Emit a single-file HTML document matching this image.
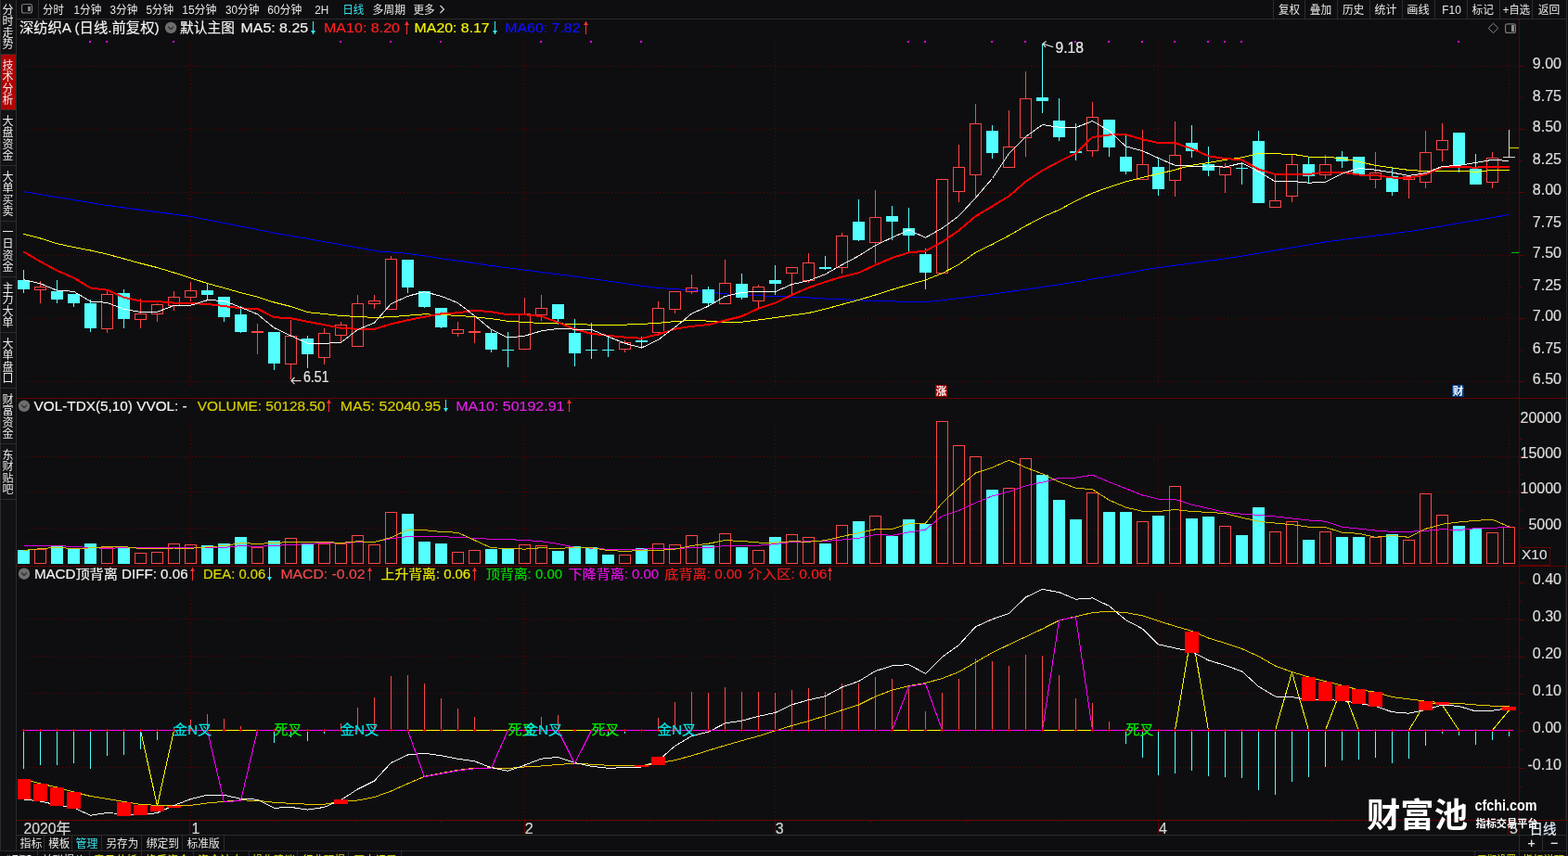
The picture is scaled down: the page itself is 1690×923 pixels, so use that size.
<!DOCTYPE html>
<html><head><meta charset="utf-8"><style>
html,body{margin:0;padding:0;background:#0e0e10;}
body{width:1690px;height:923px;overflow:hidden;position:relative;font-family:"Liberation Sans","Noto Sans CJK SC",sans-serif;}
svg{position:absolute;left:0;top:0;}
</style></head><body>
<svg width="1690" height="923" viewBox="0 0 1690 923" shape-rendering="crispEdges" font-family='"Liberation Sans","Noto Sans CJK SC",sans-serif'>
<rect x="0" y="0" width="1690" height="923" fill="#0e0e10"/>
<g><rect x="0" y="0" width="18" height="917" fill="#121214"/>
<rect x="0" y="0" width="1" height="917" fill="#2c2c2e"/>
<rect x="17" y="0" width="1" height="917" fill="#2c2c2e"/>
<rect x="1" y="58" width="16" height="1" fill="#2c2c2e"/>
<rect x="1" y="118" width="16" height="1" fill="#2c2c2e"/>
<rect x="1" y="178" width="16" height="1" fill="#2c2c2e"/>
<rect x="1" y="238" width="16" height="1" fill="#2c2c2e"/>
<rect x="1" y="298" width="16" height="1" fill="#2c2c2e"/>
<rect x="1" y="358" width="16" height="1" fill="#2c2c2e"/>
<rect x="1" y="418" width="16" height="1" fill="#2c2c2e"/>
<rect x="1" y="478" width="16" height="1" fill="#2c2c2e"/>
<rect x="1" y="538" width="16" height="1" fill="#2c2c2e"/>
<rect x="1" y="59" width="16" height="59" fill="#b00000"/>
<rect x="18" y="20" width="1670" height="1" fill="#2c2c2e"/>
<rect x="41" y="0" width="1" height="20" fill="#2c2c2e"/>
<rect x="1372" y="0" width="1" height="20" fill="#2c2c2e"/>
<rect x="1406" y="0" width="1" height="20" fill="#2c2c2e"/>
<rect x="1441" y="0" width="1" height="20" fill="#2c2c2e"/>
<rect x="1476" y="0" width="1" height="20" fill="#2c2c2e"/>
<rect x="1511" y="0" width="1" height="20" fill="#2c2c2e"/>
<rect x="1546" y="0" width="1" height="20" fill="#2c2c2e"/>
<rect x="1581" y="0" width="1" height="20" fill="#2c2c2e"/>
<rect x="1616" y="0" width="1" height="20" fill="#2c2c2e"/>
<rect x="1651" y="0" width="1" height="20" fill="#2c2c2e"/>
<rect x="1688" y="0" width="1" height="923" fill="#2c2c2e"/>
<rect x="23.5" y="4.5" width="11" height="9.5" rx="2" fill="none" stroke="#7a7a7a" stroke-width="1.2" shape-rendering="auto"/>
<rect x="29.5" y="6.5" width="3" height="5.5" fill="#8a8a8a"/>
<path d="M1609.5 25.2 L1614.8 30.4 L1609.5 35.6 L1604.2 30.4 Z" fill="none" stroke="#8a8a8a" stroke-width="1" shape-rendering="auto"/>
<rect x="1622.6" y="25.8" width="10.8" height="9.6" rx="2" fill="none" stroke="#7a7a7a" stroke-width="1.2" shape-rendering="auto"/>
<rect x="1629" y="27.3" width="3" height="6.5" fill="#8a8a8a"/>
<circle cx="184.1" cy="29.9" r="6.2" fill="#6e6e6e" shape-rendering="auto"/>
<polyline points="181.1,28.7 184.1,31.7 187.1,28.7" fill="none" stroke="#2a2a2a" stroke-width="1.2" shape-rendering="auto"/>
<circle cx="26" cy="437.8" r="6.2" fill="#6e6e6e" shape-rendering="auto"/>
<polyline points="23,436.6 26,439.6 29,436.6" fill="none" stroke="#2a2a2a" stroke-width="1.2" shape-rendering="auto"/>
<circle cx="26" cy="618.7" r="6.2" fill="#6e6e6e" shape-rendering="auto"/>
<polyline points="23,617.5 26,620.5 29,617.5" fill="none" stroke="#2a2a2a" stroke-width="1.2" shape-rendering="auto"/>
<rect x="18" y="900" width="1670" height="1" fill="#2c2c2e"/>
<rect x="47" y="900" width="1" height="17" fill="#2c2c2e"/>
<rect x="77" y="900" width="1" height="17" fill="#2c2c2e"/>
<rect x="109" y="900" width="1" height="17" fill="#2c2c2e"/>
<rect x="152" y="900" width="1" height="17" fill="#2c2c2e"/>
<rect x="196" y="900" width="1" height="17" fill="#2c2c2e"/>
<rect x="241" y="900" width="1" height="17" fill="#2c2c2e"/>
<rect x="1637" y="900" width="1" height="17" fill="#2c2c2e"/>
<rect x="1662" y="900" width="1" height="17" fill="#2c2c2e"/>
<rect x="0" y="917" width="1688" height="1" fill="#2c2c2e"/>
<rect x="40" y="918" width="1" height="5" fill="#2c2c2e"/>
<rect x="96" y="918" width="1" height="5" fill="#2c2c2e"/>
<rect x="152" y="918" width="1" height="5" fill="#2c2c2e"/>
<rect x="208" y="918" width="1" height="5" fill="#2c2c2e"/>
<rect x="268" y="918" width="1" height="5" fill="#2c2c2e"/>
<rect x="320" y="918" width="1" height="5" fill="#2c2c2e"/>
<rect x="375" y="918" width="1" height="5" fill="#2c2c2e"/>
<rect x="432" y="918" width="1" height="5" fill="#2c2c2e"/>
<rect x="1589" y="918" width="1" height="5" fill="#2c2c2e"/>
<rect x="1637" y="918" width="1" height="5" fill="#2c2c2e"/>
<path d="M1008 415 L1019 415 L1021 417 L1021 428 L1008 428 Z" fill="#960000"/>
<path d="M1565 415 L1576 415 L1578 417 L1578 428 L1565 428 Z" fill="#003a80"/>
<rect x="295" y="885" width="1" height="2" fill="#660000"/>
<rect x="384" y="885" width="1" height="2" fill="#660000"/>
<rect x="475" y="885" width="1" height="2" fill="#660000"/>
<rect x="632" y="885" width="1" height="2" fill="#660000"/>
<rect x="700" y="885" width="1" height="2" fill="#660000"/>
<rect x="767" y="885" width="1" height="2" fill="#660000"/>
<rect x="938" y="885" width="1" height="2" fill="#660000"/>
<rect x="1041" y="885" width="1" height="2" fill="#660000"/>
<rect x="1144" y="885" width="1" height="2" fill="#660000"/>
<rect x="1342" y="885" width="1" height="2" fill="#660000"/>
<rect x="1436" y="885" width="1" height="2" fill="#660000"/>
<rect x="1540" y="885" width="1" height="2" fill="#660000"/>
<polyline points="474.5,6 478.5,10 474.5,14" fill="none" stroke="#dedede" stroke-width="1.1" shape-rendering="auto"/></g>
<defs><clipPath id="cp"><rect x="19" y="21" width="1618" height="863"/></clipPath></defs>
<g clip-path="url(#cp)"><line x1="23" y1="71.5" x2="1637" y2="71.5" stroke="#660000" stroke-width="1" stroke-dasharray="1 3"/>
<line x1="23" y1="139.5" x2="1637" y2="139.5" stroke="#660000" stroke-width="1" stroke-dasharray="1 3"/>
<line x1="23" y1="207.5" x2="1637" y2="207.5" stroke="#660000" stroke-width="1" stroke-dasharray="1 3"/>
<line x1="23" y1="275.5" x2="1637" y2="275.5" stroke="#660000" stroke-width="1" stroke-dasharray="1 3"/>
<line x1="23" y1="343.5" x2="1637" y2="343.5" stroke="#660000" stroke-width="1" stroke-dasharray="1 3"/>
<line x1="23" y1="411.5" x2="1637" y2="411.5" stroke="#660000" stroke-width="1" stroke-dasharray="1 3"/>
<line x1="23" y1="492.5" x2="1637" y2="492.5" stroke="#660000" stroke-width="1" stroke-dasharray="1 3"/>
<line x1="23" y1="530.5" x2="1637" y2="530.5" stroke="#660000" stroke-width="1" stroke-dasharray="1 3"/>
<line x1="23" y1="569.5" x2="1637" y2="569.5" stroke="#660000" stroke-width="1" stroke-dasharray="1 3"/>
<line x1="23" y1="667.5" x2="1637" y2="667.5" stroke="#660000" stroke-width="1" stroke-dasharray="1 3"/>
<line x1="23" y1="707.5" x2="1637" y2="707.5" stroke="#660000" stroke-width="1" stroke-dasharray="1 3"/>
<line x1="23" y1="747.5" x2="1637" y2="747.5" stroke="#660000" stroke-width="1" stroke-dasharray="1 3"/>
<line x1="23" y1="827.5" x2="1637" y2="827.5" stroke="#660000" stroke-width="1" stroke-dasharray="1 3"/>
<line x1="205.5" y1="46" x2="205.5" y2="416" stroke="#660000" stroke-width="1" stroke-dasharray="1 3"/>
<line x1="205.5" y1="454" x2="205.5" y2="608" stroke="#660000" stroke-width="1" stroke-dasharray="1 3"/>
<line x1="205.5" y1="635" x2="205.5" y2="884" stroke="#660000" stroke-width="1" stroke-dasharray="1 3"/>
<line x1="565.5" y1="46" x2="565.5" y2="416" stroke="#660000" stroke-width="1" stroke-dasharray="1 3"/>
<line x1="565.5" y1="454" x2="565.5" y2="608" stroke="#660000" stroke-width="1" stroke-dasharray="1 3"/>
<line x1="565.5" y1="635" x2="565.5" y2="884" stroke="#660000" stroke-width="1" stroke-dasharray="1 3"/>
<line x1="835.5" y1="46" x2="835.5" y2="416" stroke="#660000" stroke-width="1" stroke-dasharray="1 3"/>
<line x1="835.5" y1="454" x2="835.5" y2="608" stroke="#660000" stroke-width="1" stroke-dasharray="1 3"/>
<line x1="835.5" y1="635" x2="835.5" y2="884" stroke="#660000" stroke-width="1" stroke-dasharray="1 3"/>
<line x1="1248.5" y1="46" x2="1248.5" y2="416" stroke="#660000" stroke-width="1" stroke-dasharray="1 3"/>
<line x1="1248.5" y1="454" x2="1248.5" y2="608" stroke="#660000" stroke-width="1" stroke-dasharray="1 3"/>
<line x1="1248.5" y1="635" x2="1248.5" y2="884" stroke="#660000" stroke-width="1" stroke-dasharray="1 3"/>
<line x1="1626.5" y1="46" x2="1626.5" y2="416" stroke="#660000" stroke-width="1" stroke-dasharray="1 3"/>
<line x1="1626.5" y1="454" x2="1626.5" y2="608" stroke="#660000" stroke-width="1" stroke-dasharray="1 3"/>
<line x1="1626.5" y1="635" x2="1626.5" y2="884" stroke="#660000" stroke-width="1" stroke-dasharray="1 3"/>
<polyline points="25.1,206.6 112.7,221.1 205.0,233.4 302.0,252.3 408.2,271.0 421.5,272.0 439.5,273.4 457.5,275.9 475.5,278.8 493.5,281.2 511.5,283.7 525.0,285.9 640.0,300.8 673.5,305.7 691.5,308.4 709.5,310.5 727.5,311.6 745.5,313.0 763.5,314.9 781.5,316.9 799.5,317.6 817.5,318.7 835.5,319.8 853.5,320.1 871.5,320.9 889.5,322.0 907.5,322.8 927.3,323.9 993.6,325.8 1012.5,324.2 1069.3,317.1 1116.7,310.5 1164.0,303.3 1211.4,295.1 1240.0,289.8 1280.0,284.4 1334.7,276.8 1429.3,260.7 1524.0,248.9 1625.8,231.6" fill="none" stroke="#0000ff" stroke-width="1" stroke-linejoin="round"/>
<rect x="25" y="291" width="1" height="25" fill="#54ffff"/>
<rect x="19" y="302" width="13" height="10" fill="#54ffff"/>
<rect x="43" y="303" width="1" height="6" fill="#ff4646"/>
<rect x="43" y="313" width="1" height="14" fill="#ff4646"/>
<rect x="37.5" y="309.5" width="12" height="3" fill="none" stroke="#ff4646" stroke-width="1"/>
<rect x="61" y="302" width="1" height="25" fill="#54ffff"/>
<rect x="55" y="314" width="13" height="9" fill="#54ffff"/>
<rect x="79" y="317" width="1" height="14" fill="#54ffff"/>
<rect x="73" y="317" width="13" height="10" fill="#54ffff"/>
<rect x="97" y="323" width="1" height="35" fill="#54ffff"/>
<rect x="91" y="327" width="13" height="27" fill="#54ffff"/>
<rect x="115" y="314" width="1" height="3" fill="#ff4646"/>
<rect x="115" y="355" width="1" height="4" fill="#ff4646"/>
<rect x="109.5" y="317.5" width="12" height="37" fill="none" stroke="#ff4646" stroke-width="1"/>
<rect x="133" y="312" width="1" height="42" fill="#54ffff"/>
<rect x="127" y="316" width="13" height="28" fill="#54ffff"/>
<rect x="151" y="322" width="1" height="16" fill="#ff4646"/>
<rect x="151" y="345" width="1" height="9" fill="#ff4646"/>
<rect x="145.5" y="338.5" width="12" height="6" fill="none" stroke="#ff4646" stroke-width="1"/>
<rect x="169" y="327" width="1" height="1" fill="#ff4646"/>
<rect x="169" y="339" width="1" height="8" fill="#ff4646"/>
<rect x="163.5" y="328.5" width="12" height="10" fill="none" stroke="#ff4646" stroke-width="1"/>
<rect x="187" y="314" width="1" height="6" fill="#ff4646"/>
<rect x="187" y="330" width="1" height="5" fill="#ff4646"/>
<rect x="181.5" y="320.5" width="12" height="9" fill="none" stroke="#ff4646" stroke-width="1"/>
<rect x="205" y="304" width="1" height="9" fill="#ff4646"/>
<rect x="205" y="321" width="1" height="4" fill="#ff4646"/>
<rect x="199.5" y="313.5" width="12" height="7" fill="none" stroke="#ff4646" stroke-width="1"/>
<rect x="223" y="306" width="1" height="17" fill="#54ffff"/>
<rect x="217" y="313" width="13" height="5" fill="#54ffff"/>
<rect x="241" y="320" width="1" height="27" fill="#54ffff"/>
<rect x="235" y="320" width="13" height="22" fill="#54ffff"/>
<rect x="259" y="330" width="1" height="29" fill="#54ffff"/>
<rect x="253" y="339" width="13" height="19" fill="#54ffff"/>
<rect x="277" y="349" width="1" height="33" fill="#ff4646"/>
<rect x="271" y="357" width="13" height="2" fill="#ff4646"/>
<rect x="295" y="358" width="1" height="41" fill="#54ffff"/>
<rect x="289" y="358" width="13" height="34" fill="#54ffff"/>
<rect x="313" y="345" width="1" height="17" fill="#ff4646"/>
<rect x="313" y="393" width="1" height="16" fill="#ff4646"/>
<rect x="307.5" y="362.5" width="12" height="30" fill="none" stroke="#ff4646" stroke-width="1"/>
<rect x="331" y="362" width="1" height="35" fill="#54ffff"/>
<rect x="325" y="365" width="13" height="17" fill="#54ffff"/>
<rect x="349" y="354" width="1" height="5" fill="#ff4646"/>
<rect x="349" y="386" width="1" height="7" fill="#ff4646"/>
<rect x="343.5" y="359.5" width="12" height="26" fill="none" stroke="#ff4646" stroke-width="1"/>
<rect x="367" y="347" width="1" height="3" fill="#ff4646"/>
<rect x="367" y="362" width="1" height="7" fill="#ff4646"/>
<rect x="361.5" y="350.5" width="12" height="11" fill="none" stroke="#ff4646" stroke-width="1"/>
<rect x="385" y="318" width="1" height="9" fill="#ff4646"/>
<rect x="379.5" y="327.5" width="12" height="46" fill="none" stroke="#ff4646" stroke-width="1"/>
<rect x="403" y="318" width="1" height="6" fill="#ff4646"/>
<rect x="403" y="328" width="1" height="5" fill="#ff4646"/>
<rect x="397.5" y="324.5" width="12" height="3" fill="none" stroke="#ff4646" stroke-width="1"/>
<rect x="421" y="276" width="1" height="3" fill="#ff4646"/>
<rect x="415.5" y="279.5" width="12" height="54" fill="none" stroke="#ff4646" stroke-width="1"/>
<rect x="439" y="280" width="1" height="36" fill="#54ffff"/>
<rect x="433" y="280" width="13" height="30" fill="#54ffff"/>
<rect x="457" y="314" width="1" height="18" fill="#54ffff"/>
<rect x="451" y="314" width="13" height="17" fill="#54ffff"/>
<rect x="475" y="332" width="1" height="22" fill="#54ffff"/>
<rect x="469" y="332" width="13" height="21" fill="#54ffff"/>
<rect x="493" y="347" width="1" height="8" fill="#ff4646"/>
<rect x="493" y="360" width="1" height="3" fill="#ff4646"/>
<rect x="487.5" y="355.5" width="12" height="4" fill="none" stroke="#ff4646" stroke-width="1"/>
<rect x="511" y="342" width="1" height="28" fill="#ff4646"/>
<rect x="505" y="357" width="13" height="2" fill="#ff4646"/>
<rect x="529" y="355" width="1" height="25" fill="#54ffff"/>
<rect x="523" y="359" width="13" height="18" fill="#54ffff"/>
<rect x="547" y="358" width="1" height="38" fill="#54ffff"/>
<rect x="541" y="377" width="13" height="1" fill="#54ffff"/>
<rect x="565" y="321" width="1" height="17" fill="#ff4646"/>
<rect x="559.5" y="338.5" width="12" height="38" fill="none" stroke="#ff4646" stroke-width="1"/>
<rect x="583" y="318" width="1" height="14" fill="#ff4646"/>
<rect x="583" y="340" width="1" height="6" fill="#ff4646"/>
<rect x="577.5" y="332.5" width="12" height="7" fill="none" stroke="#ff4646" stroke-width="1"/>
<rect x="601" y="328" width="1" height="22" fill="#54ffff"/>
<rect x="595" y="328" width="13" height="16" fill="#54ffff"/>
<rect x="619" y="344" width="1" height="51" fill="#54ffff"/>
<rect x="613" y="359" width="13" height="22" fill="#54ffff"/>
<rect x="637" y="348" width="1" height="39" fill="#54ffff"/>
<rect x="631" y="377" width="13" height="1" fill="#54ffff"/>
<rect x="655" y="364" width="1" height="21" fill="#54ffff"/>
<rect x="649" y="377" width="13" height="1" fill="#54ffff"/>
<rect x="673" y="367" width="1" height="2" fill="#ff4646"/>
<rect x="673" y="377" width="1" height="3" fill="#ff4646"/>
<rect x="667.5" y="369.5" width="12" height="7" fill="none" stroke="#ff4646" stroke-width="1"/>
<rect x="691" y="363" width="1" height="13" fill="#54ffff"/>
<rect x="685" y="367" width="13" height="2" fill="#54ffff"/>
<rect x="709" y="325" width="1" height="7" fill="#ff4646"/>
<rect x="709" y="359" width="1" height="3" fill="#ff4646"/>
<rect x="703.5" y="332.5" width="12" height="26" fill="none" stroke="#ff4646" stroke-width="1"/>
<rect x="727" y="334" width="1" height="4" fill="#ff4646"/>
<rect x="721.5" y="314.5" width="12" height="19" fill="none" stroke="#ff4646" stroke-width="1"/>
<rect x="745" y="296" width="1" height="14" fill="#ff4646"/>
<rect x="745" y="315" width="1" height="2" fill="#ff4646"/>
<rect x="739.5" y="310.5" width="12" height="4" fill="none" stroke="#ff4646" stroke-width="1"/>
<rect x="763" y="309" width="1" height="20" fill="#54ffff"/>
<rect x="757" y="312" width="13" height="15" fill="#54ffff"/>
<rect x="781" y="280" width="1" height="25" fill="#ff4646"/>
<rect x="775.5" y="305.5" width="12" height="22" fill="none" stroke="#ff4646" stroke-width="1"/>
<rect x="799" y="295" width="1" height="28" fill="#54ffff"/>
<rect x="793" y="306" width="13" height="15" fill="#54ffff"/>
<rect x="817" y="307" width="1" height="2" fill="#ff4646"/>
<rect x="817" y="325" width="1" height="7" fill="#ff4646"/>
<rect x="811.5" y="309.5" width="12" height="15" fill="none" stroke="#ff4646" stroke-width="1"/>
<rect x="835" y="286" width="1" height="32" fill="#54ffff"/>
<rect x="829" y="302" width="13" height="4" fill="#54ffff"/>
<rect x="853" y="295" width="1" height="23" fill="#ff4646"/>
<rect x="847.5" y="288.5" width="12" height="6" fill="none" stroke="#ff4646" stroke-width="1"/>
<rect x="871" y="273" width="1" height="10" fill="#ff4646"/>
<rect x="871" y="303" width="1" height="2" fill="#ff4646"/>
<rect x="865.5" y="283.5" width="12" height="19" fill="none" stroke="#ff4646" stroke-width="1"/>
<rect x="889" y="276" width="1" height="15" fill="#54ffff"/>
<rect x="883" y="288" width="13" height="2" fill="#54ffff"/>
<rect x="907" y="251" width="1" height="3" fill="#ff4646"/>
<rect x="907" y="289" width="1" height="6" fill="#ff4646"/>
<rect x="901.5" y="254.5" width="12" height="34" fill="none" stroke="#ff4646" stroke-width="1"/>
<rect x="925" y="215" width="1" height="45" fill="#54ffff"/>
<rect x="919" y="239" width="13" height="20" fill="#54ffff"/>
<rect x="943" y="205" width="1" height="29" fill="#ff4646"/>
<rect x="943" y="262" width="1" height="22" fill="#ff4646"/>
<rect x="937.5" y="234.5" width="12" height="27" fill="none" stroke="#ff4646" stroke-width="1"/>
<rect x="961" y="222" width="1" height="37" fill="#54ffff"/>
<rect x="955" y="233" width="13" height="6" fill="#54ffff"/>
<rect x="979" y="224" width="1" height="47" fill="#54ffff"/>
<rect x="973" y="246" width="13" height="8" fill="#54ffff"/>
<rect x="997" y="268" width="1" height="44" fill="#54ffff"/>
<rect x="991" y="274" width="13" height="20" fill="#54ffff"/>
<rect x="1009.5" y="193.5" width="12" height="101" fill="none" stroke="#ff4646" stroke-width="1"/>
<rect x="1033" y="156" width="1" height="24" fill="#ff4646"/>
<rect x="1033" y="207" width="1" height="11" fill="#ff4646"/>
<rect x="1027.5" y="180.5" width="12" height="26" fill="none" stroke="#ff4646" stroke-width="1"/>
<rect x="1051" y="112" width="1" height="21" fill="#ff4646"/>
<rect x="1051" y="189" width="1" height="25" fill="#ff4646"/>
<rect x="1045.5" y="133.5" width="12" height="55" fill="none" stroke="#ff4646" stroke-width="1"/>
<rect x="1069" y="135" width="1" height="36" fill="#54ffff"/>
<rect x="1063" y="141" width="13" height="24" fill="#54ffff"/>
<rect x="1087" y="119" width="1" height="39" fill="#ff4646"/>
<rect x="1081.5" y="158.5" width="12" height="22" fill="none" stroke="#ff4646" stroke-width="1"/>
<rect x="1105" y="77" width="1" height="29" fill="#ff4646"/>
<rect x="1105" y="149" width="1" height="20" fill="#ff4646"/>
<rect x="1099.5" y="106.5" width="12" height="42" fill="none" stroke="#ff4646" stroke-width="1"/>
<rect x="1123" y="47" width="1" height="75" fill="#54ffff"/>
<rect x="1117" y="105" width="13" height="4" fill="#54ffff"/>
<rect x="1141" y="106" width="1" height="46" fill="#54ffff"/>
<rect x="1135" y="130" width="13" height="18" fill="#54ffff"/>
<rect x="1159" y="133" width="1" height="40" fill="#54ffff"/>
<rect x="1153" y="163" width="13" height="2" fill="#54ffff"/>
<rect x="1177" y="110" width="1" height="16" fill="#ff4646"/>
<rect x="1177" y="163" width="1" height="6" fill="#ff4646"/>
<rect x="1171.5" y="126.5" width="12" height="36" fill="none" stroke="#ff4646" stroke-width="1"/>
<rect x="1195" y="129" width="1" height="40" fill="#54ffff"/>
<rect x="1189" y="129" width="13" height="30" fill="#54ffff"/>
<rect x="1213" y="146" width="1" height="42" fill="#54ffff"/>
<rect x="1207" y="169" width="13" height="16" fill="#54ffff"/>
<rect x="1231" y="140" width="1" height="37" fill="#ff4646"/>
<rect x="1225.5" y="177.5" width="12" height="16" fill="none" stroke="#ff4646" stroke-width="1"/>
<rect x="1248" y="170" width="1" height="41" fill="#54ffff"/>
<rect x="1242" y="180" width="13" height="24" fill="#54ffff"/>
<rect x="1266" y="131" width="1" height="36" fill="#ff4646"/>
<rect x="1266" y="195" width="1" height="17" fill="#ff4646"/>
<rect x="1260.5" y="167.5" width="12" height="27" fill="none" stroke="#ff4646" stroke-width="1"/>
<rect x="1284" y="135" width="1" height="35" fill="#54ffff"/>
<rect x="1278" y="154" width="13" height="9" fill="#54ffff"/>
<rect x="1302" y="158" width="1" height="32" fill="#54ffff"/>
<rect x="1296" y="177" width="13" height="7" fill="#54ffff"/>
<rect x="1320" y="176" width="1" height="4" fill="#ff4646"/>
<rect x="1320" y="189" width="1" height="19" fill="#ff4646"/>
<rect x="1314.5" y="180.5" width="12" height="8" fill="none" stroke="#ff4646" stroke-width="1"/>
<rect x="1338" y="176" width="1" height="23" fill="#54ffff"/>
<rect x="1332" y="181" width="13" height="1" fill="#54ffff"/>
<rect x="1356" y="141" width="1" height="78" fill="#54ffff"/>
<rect x="1350" y="152" width="13" height="67" fill="#54ffff"/>
<rect x="1374" y="189" width="1" height="27" fill="#ff4646"/>
<rect x="1368.5" y="216.5" width="12" height="7" fill="none" stroke="#ff4646" stroke-width="1"/>
<rect x="1392" y="167" width="1" height="10" fill="#ff4646"/>
<rect x="1392" y="212" width="1" height="6" fill="#ff4646"/>
<rect x="1386.5" y="177.5" width="12" height="34" fill="none" stroke="#ff4646" stroke-width="1"/>
<rect x="1410" y="170" width="1" height="27" fill="#54ffff"/>
<rect x="1404" y="177" width="13" height="13" fill="#54ffff"/>
<rect x="1428" y="167" width="1" height="10" fill="#ff4646"/>
<rect x="1428" y="189" width="1" height="4" fill="#ff4646"/>
<rect x="1422.5" y="177.5" width="12" height="11" fill="none" stroke="#ff4646" stroke-width="1"/>
<rect x="1446" y="163" width="1" height="18" fill="#54ffff"/>
<rect x="1440" y="169" width="13" height="5" fill="#54ffff"/>
<rect x="1464" y="169" width="1" height="19" fill="#54ffff"/>
<rect x="1458" y="169" width="13" height="19" fill="#54ffff"/>
<rect x="1482" y="164" width="1" height="22" fill="#ff4646"/>
<rect x="1482" y="194" width="1" height="9" fill="#ff4646"/>
<rect x="1476.5" y="186.5" width="12" height="7" fill="none" stroke="#ff4646" stroke-width="1"/>
<rect x="1500" y="180" width="1" height="31" fill="#54ffff"/>
<rect x="1494" y="190" width="13" height="17" fill="#54ffff"/>
<rect x="1518" y="194" width="1" height="20" fill="#ff4646"/>
<rect x="1512.5" y="190.5" width="12" height="3" fill="none" stroke="#ff4646" stroke-width="1"/>
<rect x="1536" y="141" width="1" height="23" fill="#ff4646"/>
<rect x="1536" y="197" width="1" height="6" fill="#ff4646"/>
<rect x="1530.5" y="164.5" width="12" height="32" fill="none" stroke="#ff4646" stroke-width="1"/>
<rect x="1554" y="133" width="1" height="18" fill="#ff4646"/>
<rect x="1554" y="162" width="1" height="12" fill="#ff4646"/>
<rect x="1548.5" y="151.5" width="12" height="10" fill="none" stroke="#ff4646" stroke-width="1"/>
<rect x="1572" y="143" width="1" height="43" fill="#54ffff"/>
<rect x="1566" y="143" width="13" height="35" fill="#54ffff"/>
<rect x="1590" y="166" width="1" height="33" fill="#54ffff"/>
<rect x="1584" y="182" width="13" height="17" fill="#54ffff"/>
<rect x="1608" y="164" width="1" height="6" fill="#ff4646"/>
<rect x="1608" y="197" width="1" height="6" fill="#ff4646"/>
<rect x="1602.5" y="170.5" width="12" height="26" fill="none" stroke="#ff4646" stroke-width="1"/>
<rect x="1626" y="140" width="1" height="30" fill="#d8d8d8"/>
<rect x="1620" y="169" width="13" height="1" fill="#d8d8d8"/>
<polyline points="25.5,252.3 43.5,257.0 61.5,262.7 79.5,266.5 97.5,270.0 115.5,274.1 133.5,279.0 151.5,284.0 169.5,288.5 187.5,294.0 205.5,299.8 223.5,305.6 241.5,310.5 259.5,315.6 277.5,320.2 295.5,326.0 313.5,330.5 331.5,336.6 349.5,338.5 367.5,340.5 385.5,341.5 403.5,342.4 421.5,341.7 439.5,340.2 457.5,338.8 475.5,339.5 493.5,340.4 511.5,341.7 529.5,343.7 547.5,346.3 565.5,347.4 583.5,348.5 601.5,348.8 619.5,349.5 637.5,350.2 655.5,350.1 673.5,350.1 691.5,349.4 709.5,348.3 727.5,346.6 745.5,345.5 763.5,346.1 781.5,347.2 799.5,347.2 817.5,345.0 835.5,342.5 853.5,340.0 871.5,337.5 889.5,333.2 907.5,328.3 925.5,323.4 943.5,318.0 961.5,312.3 979.5,306.9 997.5,302.0 1015.5,294.7 1033.5,285.2 1051.5,272.2 1069.5,263.5 1087.5,254.0 1105.5,243.6 1123.5,234.1 1141.5,226.3 1159.5,216.6 1177.5,208.2 1195.5,201.7 1213.5,195.8 1231.5,191.3 1248.5,187.4 1266.5,183.1 1284.5,178.2 1302.5,175.4 1320.5,172.4 1338.5,169.8 1356.5,165.5 1374.5,165.9 1392.5,166.2 1410.5,169.1 1428.5,169.3 1446.5,170.7 1464.5,174.2 1482.5,178.4 1500.5,181.0 1518.5,183.4 1536.5,184.6 1554.5,184.6 1572.5,184.3 1590.5,185.4 1608.5,183.4 1626.5,183.4" fill="none" stroke="#ffff00" stroke-width="1" stroke-linejoin="round"/>
<polyline points="25.5,271.5 43.5,282.0 61.5,291.8 79.5,299.6 97.5,310.5 115.5,312.7 133.5,320.7 151.5,324.6 169.5,325.0 187.5,326.6 205.5,327.0 223.5,328.0 241.5,330.0 259.5,332.4 277.5,333.0 295.5,342.2 313.5,343.2 331.5,346.8 349.5,350.2 367.5,353.7 385.5,354.8 403.5,354.8 421.5,349.4 439.5,345.2 457.5,341.7 475.5,338.3 493.5,337.3 511.5,334.6 529.5,336.3 547.5,339.3 565.5,339.3 583.5,341.0 601.5,347.6 619.5,355.0 637.5,359.8 655.5,361.8 673.5,363.7 691.5,364.8 709.5,360.4 727.5,354.8 745.5,351.8 763.5,350.1 781.5,345.5 799.5,341.0 817.5,332.6 835.5,326.7 853.5,318.0 871.5,310.2 889.5,303.9 907.5,298.5 925.5,294.2 943.5,285.8 961.5,278.0 979.5,272.4 997.5,270.6 1015.5,261.0 1033.5,248.4 1051.5,233.2 1069.5,222.4 1087.5,211.5 1105.5,195.9 1123.5,183.8 1141.5,174.3 1159.5,165.3 1177.5,148.0 1195.5,145.4 1213.5,145.1 1231.5,150.3 1248.5,154.0 1266.5,154.2 1284.5,160.3 1302.5,168.3 1320.5,171.0 1338.5,172.4 1356.5,182.6 1374.5,187.9 1392.5,187.9 1410.5,187.9 1428.5,185.6 1446.5,185.8 1464.5,188.5 1482.5,189.1 1500.5,191.5 1518.5,192.1 1536.5,187.9 1554.5,180.2 1572.5,180.2 1590.5,180.6 1608.5,179.8 1626.5,179.8" fill="none" stroke="#ff0000" stroke-width="2" stroke-linejoin="round"/>
<polyline points="25.5,301.7 43.5,305.8 61.5,313.2 79.5,314.3 97.5,325.0 115.5,326.3 133.5,333.5 151.5,336.4 169.5,336.3 187.5,329.5 205.5,329.3 223.5,323.7 241.5,324.3 259.5,331.5 277.5,338.8 295.5,353.5 313.5,362.0 331.5,370.2 349.5,370.3 367.5,369.3 385.5,355.5 403.5,348.0 421.5,327.6 439.5,319.3 457.5,314.7 475.5,319.3 493.5,326.6 511.5,340.5 529.5,355.4 547.5,364.1 565.5,362.2 583.5,356.8 601.5,354.4 619.5,355.1 637.5,355.4 655.5,363.0 673.5,370.2 691.5,375.0 709.5,366.4 727.5,352.8 745.5,338.2 763.5,330.1 781.5,319.5 799.5,315.3 817.5,314.5 835.5,314.5 853.5,306.6 871.5,302.6 889.5,295.8 907.5,285.5 925.5,275.9 943.5,264.6 961.5,256.2 979.5,248.0 997.5,256.2 1015.5,246.1 1033.5,232.8 1051.5,213.3 1069.5,192.5 1087.5,165.6 1105.5,147.5 1123.5,134.5 1141.5,137.3 1159.5,137.6 1177.5,130.5 1195.5,141.2 1213.5,157.9 1231.5,162.7 1248.5,170.5 1266.5,178.3 1284.5,179.1 1302.5,179.0 1320.5,180.2 1338.5,175.8 1356.5,185.0 1374.5,195.7 1392.5,195.3 1410.5,197.2 1428.5,196.2 1446.5,187.3 1464.5,181.4 1482.5,183.2 1500.5,186.1 1518.5,189.4 1536.5,186.7 1554.5,179.4 1572.5,178.5 1590.5,175.5 1608.5,172.3 1626.5,173.5" fill="none" stroke="#ffffff" stroke-width="1" stroke-linejoin="round"/>
<rect x="96" y="44" width="2" height="2" fill="#ff00ff"/>
<rect x="114" y="44" width="2" height="2" fill="#ff00ff"/>
<rect x="186" y="44" width="2" height="2" fill="#ff00ff"/>
<rect x="366" y="44" width="2" height="2" fill="#ff00ff"/>
<rect x="420" y="44" width="2" height="2" fill="#ff00ff"/>
<rect x="474" y="44" width="2" height="2" fill="#ff00ff"/>
<rect x="582" y="44" width="2" height="2" fill="#ff00ff"/>
<rect x="636" y="44" width="2" height="2" fill="#ff00ff"/>
<rect x="690" y="44" width="2" height="2" fill="#ff00ff"/>
<rect x="978" y="44" width="2" height="2" fill="#ff00ff"/>
<rect x="996" y="44" width="2" height="2" fill="#ff00ff"/>
<rect x="1068" y="44" width="2" height="2" fill="#ff00ff"/>
<rect x="1104" y="44" width="2" height="2" fill="#ff00ff"/>
<rect x="1158" y="44" width="2" height="2" fill="#ff00ff"/>
<rect x="1194" y="44" width="2" height="2" fill="#ff00ff"/>
<rect x="1230" y="44" width="2" height="2" fill="#ff00ff"/>
<rect x="1265" y="44" width="2" height="2" fill="#ff00ff"/>
<rect x="1301" y="44" width="2" height="2" fill="#ff00ff"/>
<rect x="1319" y="44" width="2" height="2" fill="#ff00ff"/>
<rect x="1337" y="44" width="2" height="2" fill="#ff00ff"/>
<rect x="1571" y="44" width="2" height="2" fill="#ff00ff"/>
<rect x="1626" y="159" width="11" height="1" fill="#d8d800"/>
<rect x="1629" y="272" width="8" height="1" fill="#00c000"/>
<rect x="19" y="593" width="13" height="15" fill="#54ffff"/>
<rect x="37.5" y="592.5" width="12" height="15" fill="none" stroke="#ff4646" stroke-width="1"/>
<rect x="55" y="588" width="13" height="20" fill="#54ffff"/>
<rect x="73" y="591" width="13" height="17" fill="#54ffff"/>
<rect x="91" y="586" width="13" height="22" fill="#54ffff"/>
<rect x="109.5" y="590.5" width="12" height="17" fill="none" stroke="#ff4646" stroke-width="1"/>
<rect x="127" y="591" width="13" height="17" fill="#54ffff"/>
<rect x="145.5" y="596.5" width="12" height="11" fill="none" stroke="#ff4646" stroke-width="1"/>
<rect x="163.5" y="595.5" width="12" height="12" fill="none" stroke="#ff4646" stroke-width="1"/>
<rect x="181.5" y="586.5" width="12" height="21" fill="none" stroke="#ff4646" stroke-width="1"/>
<rect x="199.5" y="587.5" width="12" height="20" fill="none" stroke="#ff4646" stroke-width="1"/>
<rect x="217" y="588" width="13" height="20" fill="#54ffff"/>
<rect x="235" y="586" width="13" height="22" fill="#54ffff"/>
<rect x="253" y="579" width="13" height="29" fill="#54ffff"/>
<rect x="271.5" y="590.5" width="12" height="17" fill="none" stroke="#ff4646" stroke-width="1"/>
<rect x="289" y="583" width="13" height="25" fill="#54ffff"/>
<rect x="307.5" y="580.5" width="12" height="27" fill="none" stroke="#ff4646" stroke-width="1"/>
<rect x="325" y="587" width="13" height="21" fill="#54ffff"/>
<rect x="343.5" y="586.5" width="12" height="21" fill="none" stroke="#ff4646" stroke-width="1"/>
<rect x="361.5" y="586.5" width="12" height="21" fill="none" stroke="#ff4646" stroke-width="1"/>
<rect x="379.5" y="577.5" width="12" height="30" fill="none" stroke="#ff4646" stroke-width="1"/>
<rect x="397.5" y="587.5" width="12" height="20" fill="none" stroke="#ff4646" stroke-width="1"/>
<rect x="415.5" y="552.5" width="12" height="55" fill="none" stroke="#ff4646" stroke-width="1"/>
<rect x="433" y="554" width="13" height="54" fill="#54ffff"/>
<rect x="451" y="584" width="13" height="24" fill="#54ffff"/>
<rect x="469" y="586" width="13" height="22" fill="#54ffff"/>
<rect x="487.5" y="595.5" width="12" height="12" fill="none" stroke="#ff4646" stroke-width="1"/>
<rect x="505.5" y="593.5" width="12" height="14" fill="none" stroke="#ff4646" stroke-width="1"/>
<rect x="523" y="592" width="13" height="16" fill="#54ffff"/>
<rect x="541" y="592" width="13" height="16" fill="#54ffff"/>
<rect x="559.5" y="587.5" width="12" height="20" fill="none" stroke="#ff4646" stroke-width="1"/>
<rect x="577.5" y="588.5" width="12" height="19" fill="none" stroke="#ff4646" stroke-width="1"/>
<rect x="595" y="594" width="13" height="14" fill="#54ffff"/>
<rect x="613" y="589" width="13" height="19" fill="#54ffff"/>
<rect x="631" y="590" width="13" height="18" fill="#54ffff"/>
<rect x="649" y="598" width="13" height="10" fill="#54ffff"/>
<rect x="667.5" y="598.5" width="12" height="9" fill="none" stroke="#ff4646" stroke-width="1"/>
<rect x="685" y="591" width="13" height="17" fill="#54ffff"/>
<rect x="703.5" y="586.5" width="12" height="21" fill="none" stroke="#ff4646" stroke-width="1"/>
<rect x="721.5" y="587.5" width="12" height="20" fill="none" stroke="#ff4646" stroke-width="1"/>
<rect x="739.5" y="577.5" width="12" height="30" fill="none" stroke="#ff4646" stroke-width="1"/>
<rect x="757" y="588" width="13" height="20" fill="#54ffff"/>
<rect x="775.5" y="575.5" width="12" height="32" fill="none" stroke="#ff4646" stroke-width="1"/>
<rect x="793" y="590" width="13" height="18" fill="#54ffff"/>
<rect x="811.5" y="593.5" width="12" height="14" fill="none" stroke="#ff4646" stroke-width="1"/>
<rect x="829" y="579" width="13" height="29" fill="#54ffff"/>
<rect x="847.5" y="576.5" width="12" height="31" fill="none" stroke="#ff4646" stroke-width="1"/>
<rect x="865.5" y="579.5" width="12" height="28" fill="none" stroke="#ff4646" stroke-width="1"/>
<rect x="883" y="586" width="13" height="22" fill="#54ffff"/>
<rect x="901.5" y="566.5" width="12" height="41" fill="none" stroke="#ff4646" stroke-width="1"/>
<rect x="919" y="562" width="13" height="46" fill="#54ffff"/>
<rect x="937.5" y="556.5" width="12" height="51" fill="none" stroke="#ff4646" stroke-width="1"/>
<rect x="955" y="578" width="13" height="30" fill="#54ffff"/>
<rect x="973" y="560" width="13" height="48" fill="#54ffff"/>
<rect x="991" y="565" width="13" height="43" fill="#54ffff"/>
<rect x="1009.5" y="454.5" width="12" height="153" fill="none" stroke="#ff4646" stroke-width="1"/>
<rect x="1027.5" y="480.5" width="12" height="127" fill="none" stroke="#ff4646" stroke-width="1"/>
<rect x="1045.5" y="492.5" width="12" height="115" fill="none" stroke="#ff4646" stroke-width="1"/>
<rect x="1063" y="528" width="13" height="80" fill="#54ffff"/>
<rect x="1081.5" y="526.5" width="12" height="81" fill="none" stroke="#ff4646" stroke-width="1"/>
<rect x="1099.5" y="494.5" width="12" height="113" fill="none" stroke="#ff4646" stroke-width="1"/>
<rect x="1117" y="512" width="13" height="96" fill="#54ffff"/>
<rect x="1135" y="539" width="13" height="69" fill="#54ffff"/>
<rect x="1153" y="560" width="13" height="48" fill="#54ffff"/>
<rect x="1171.5" y="531.5" width="12" height="76" fill="none" stroke="#ff4646" stroke-width="1"/>
<rect x="1189" y="552" width="13" height="56" fill="#54ffff"/>
<rect x="1207" y="552" width="13" height="56" fill="#54ffff"/>
<rect x="1225.5" y="562.5" width="12" height="45" fill="none" stroke="#ff4646" stroke-width="1"/>
<rect x="1242" y="556" width="13" height="52" fill="#54ffff"/>
<rect x="1260.5" y="524.5" width="12" height="83" fill="none" stroke="#ff4646" stroke-width="1"/>
<rect x="1278" y="559" width="13" height="49" fill="#54ffff"/>
<rect x="1296" y="557" width="13" height="51" fill="#54ffff"/>
<rect x="1314.5" y="567.5" width="12" height="40" fill="none" stroke="#ff4646" stroke-width="1"/>
<rect x="1332" y="577" width="13" height="31" fill="#54ffff"/>
<rect x="1350" y="547" width="13" height="61" fill="#54ffff"/>
<rect x="1368.5" y="573.5" width="12" height="34" fill="none" stroke="#ff4646" stroke-width="1"/>
<rect x="1386.5" y="562.5" width="12" height="45" fill="none" stroke="#ff4646" stroke-width="1"/>
<rect x="1404" y="582" width="13" height="26" fill="#54ffff"/>
<rect x="1422.5" y="573.5" width="12" height="34" fill="none" stroke="#ff4646" stroke-width="1"/>
<rect x="1440" y="579" width="13" height="29" fill="#54ffff"/>
<rect x="1458" y="579" width="13" height="29" fill="#54ffff"/>
<rect x="1476.5" y="579.5" width="12" height="28" fill="none" stroke="#ff4646" stroke-width="1"/>
<rect x="1494" y="576" width="13" height="32" fill="#54ffff"/>
<rect x="1512.5" y="582.5" width="12" height="25" fill="none" stroke="#ff4646" stroke-width="1"/>
<rect x="1530.5" y="532.5" width="12" height="75" fill="none" stroke="#ff4646" stroke-width="1"/>
<rect x="1548.5" y="555.5" width="12" height="52" fill="none" stroke="#ff4646" stroke-width="1"/>
<rect x="1566" y="567" width="13" height="41" fill="#54ffff"/>
<rect x="1584" y="570" width="13" height="38" fill="#54ffff"/>
<rect x="1602.5" y="574.5" width="12" height="33" fill="none" stroke="#ff4646" stroke-width="1"/>
<rect x="1620.5" y="568.5" width="12" height="39" fill="none" stroke="#ff4646" stroke-width="1"/>
<polyline points="25.5,588.5 43.5,588.5 61.5,588.5 79.5,589.5 97.5,590.5 115.5,591.5 133.5,590.5 151.5,590.5 169.5,590.5 187.5,590.5 205.5,590.6 223.5,590.6 241.5,590.4 259.5,588.6 277.5,589.4 295.5,588.3 313.5,587.6 331.5,586.6 349.5,585.4 367.5,585.4 385.5,584.7 403.5,584.3 421.5,580.8 439.5,578.5 457.5,578.5 475.5,578.5 493.5,579.6 511.5,580.2 529.5,581.4 547.5,581.7 565.5,582.4 583.5,583.8 601.5,586.4 619.5,590.3 637.5,591.1 655.5,592.3 673.5,592.3 691.5,592.1 709.5,591.5 727.5,591.5 745.5,590.7 763.5,590.7 781.5,588.5 799.5,588.2 817.5,588.2 835.5,586.6 853.5,584.4 871.5,583.8 889.5,583.5 907.5,582.1 925.5,580.3 943.5,576.4 961.5,577.3 979.5,574.0 997.5,571.1 1015.5,556.4 1033.5,550.5 1051.5,542.2 1069.5,534.8 1087.5,530.2 1105.5,523.8 1123.5,520.1 1141.5,515.5 1159.5,515.1 1177.5,512.2 1195.5,519.7 1213.5,526.8 1231.5,534.0 1248.5,538.1 1266.5,538.4 1284.5,544.1 1302.5,548.3 1320.5,552.4 1338.5,554.2 1356.5,555.4 1374.5,557.0 1392.5,559.0 1410.5,561.0 1428.5,562.2 1446.5,568.2 1464.5,570.1 1482.5,572.1 1500.5,573.3 1518.5,573.3 1536.5,572.3 1554.5,570.7 1572.5,571.5 1590.5,569.7 1608.5,569.5 1626.5,568.0" fill="none" stroke="#e000e0" stroke-width="1" stroke-linejoin="round"/>
<polyline points="25.5,593.5 43.5,591.6 61.5,590.4 79.5,591.6 97.5,590.9 115.5,589.5 133.5,589.5 151.5,591.5 169.5,591.6 187.5,591.0 205.5,591.3 223.5,589.8 241.5,588.5 259.5,585.6 277.5,586.3 295.5,585.6 313.5,584.4 331.5,584.4 349.5,584.4 367.5,585.4 385.5,583.8 403.5,584.5 421.5,579.6 439.5,571.4 457.5,571.7 475.5,573.4 493.5,574.3 511.5,582.5 529.5,590.7 547.5,591.5 565.5,592.1 583.5,590.7 601.5,591.5 619.5,590.3 637.5,590.7 655.5,593.5 673.5,594.4 691.5,593.5 709.5,593.5 727.5,592.1 745.5,588.5 763.5,586.2 781.5,582.6 799.5,583.5 817.5,585.0 835.5,585.0 853.5,583.8 871.5,584.2 889.5,582.7 907.5,578.5 925.5,574.7 943.5,570.8 961.5,570.5 979.5,564.6 997.5,564.3 1015.5,542.2 1033.5,525.6 1051.5,510.0 1069.5,504.1 1087.5,496.2 1105.5,504.1 1123.5,510.9 1141.5,519.6 1159.5,526.2 1177.5,527.7 1195.5,539.3 1213.5,547.1 1231.5,551.3 1248.5,551.5 1266.5,549.5 1284.5,551.5 1302.5,552.4 1320.5,553.6 1338.5,558.2 1356.5,562.2 1374.5,564.1 1392.5,565.6 1410.5,568.2 1428.5,568.5 1446.5,574.1 1464.5,575.3 1482.5,579.3 1500.5,577.5 1518.5,579.3 1536.5,570.3 1554.5,565.2 1572.5,562.9 1590.5,561.4 1608.5,560.2 1626.5,568.0" fill="none" stroke="#d8c000" stroke-width="1" stroke-linejoin="round"/>
<rect x="24" y="787" width="1607" height="1" fill="#ffff00"/>
<polyline points="151.5,787.5 169.5,868.8 187.5,787.5" fill="none" stroke="#ffff00" stroke-width="1" stroke-linejoin="round"/>
<polyline points="1266.5,787.5 1284.5,681.0 1302.5,787.5" fill="none" stroke="#ffff00" stroke-width="1" stroke-linejoin="round"/>
<polyline points="1374.5,787.5 1392.5,725.1 1410.5,787.5" fill="none" stroke="#ffff00" stroke-width="1" stroke-linejoin="round"/>
<polyline points="1428.5,787.5 1446.5,740.5 1464.5,787.5" fill="none" stroke="#ffff00" stroke-width="1" stroke-linejoin="round"/>
<polyline points="1518.5,787.5 1536.5,757.5 1554.5,760.2 1572.5,787.5" fill="none" stroke="#ffff00" stroke-width="1" stroke-linejoin="round"/>
<polyline points="1608.5,787.5 1626.5,765.9" fill="none" stroke="#ffff00" stroke-width="1" stroke-linejoin="round"/>
<rect x="25" y="788" width="1" height="41" fill="#54ffff"/>
<rect x="43" y="788" width="1" height="37" fill="#54ffff"/>
<rect x="61" y="788" width="1" height="37" fill="#54ffff"/>
<rect x="79" y="788" width="1" height="35" fill="#54ffff"/>
<rect x="97" y="788" width="1" height="41" fill="#54ffff"/>
<rect x="115" y="788" width="1" height="27" fill="#54ffff"/>
<rect x="133" y="788" width="1" height="26" fill="#54ffff"/>
<rect x="151" y="788" width="1" height="20" fill="#54ffff"/>
<rect x="169" y="788" width="1" height="10" fill="#54ffff"/>
<rect x="187" y="785" width="1" height="2" fill="#ff4646"/>
<rect x="205" y="776" width="1" height="11" fill="#ff4646"/>
<rect x="223" y="770" width="1" height="17" fill="#ff4646"/>
<rect x="241" y="775" width="1" height="12" fill="#ff4646"/>
<rect x="259" y="783" width="1" height="4" fill="#ff4646"/>
<rect x="295" y="788" width="1" height="13" fill="#54ffff"/>
<rect x="313" y="788" width="1" height="7" fill="#54ffff"/>
<rect x="331" y="788" width="1" height="11" fill="#54ffff"/>
<rect x="349" y="788" width="1" height="3" fill="#54ffff"/>
<rect x="367" y="780" width="1" height="7" fill="#ff4646"/>
<rect x="385" y="763" width="1" height="24" fill="#ff4646"/>
<rect x="403" y="752" width="1" height="35" fill="#ff4646"/>
<rect x="421" y="729" width="1" height="58" fill="#ff4646"/>
<rect x="439" y="728" width="1" height="59" fill="#ff4646"/>
<rect x="457" y="737" width="1" height="50" fill="#ff4646"/>
<rect x="475" y="753" width="1" height="34" fill="#ff4646"/>
<rect x="493" y="764" width="1" height="23" fill="#ff4646"/>
<rect x="511" y="773" width="1" height="14" fill="#ff4646"/>
<rect x="583" y="773" width="1" height="14" fill="#ff4646"/>
<rect x="601" y="771" width="1" height="16" fill="#ff4646"/>
<rect x="655" y="788" width="1" height="6" fill="#54ffff"/>
<rect x="673" y="788" width="1" height="3" fill="#54ffff"/>
<rect x="709" y="774" width="1" height="13" fill="#ff4646"/>
<rect x="727" y="757" width="1" height="30" fill="#ff4646"/>
<rect x="745" y="746" width="1" height="41" fill="#ff4646"/>
<rect x="763" y="747" width="1" height="40" fill="#ff4646"/>
<rect x="781" y="741" width="1" height="46" fill="#ff4646"/>
<rect x="799" y="746" width="1" height="41" fill="#ff4646"/>
<rect x="817" y="746" width="1" height="41" fill="#ff4646"/>
<rect x="835" y="747" width="1" height="40" fill="#ff4646"/>
<rect x="853" y="744" width="1" height="43" fill="#ff4646"/>
<rect x="871" y="742" width="1" height="45" fill="#ff4646"/>
<rect x="889" y="746" width="1" height="41" fill="#ff4646"/>
<rect x="907" y="737" width="1" height="50" fill="#ff4646"/>
<rect x="925" y="737" width="1" height="50" fill="#ff4646"/>
<rect x="943" y="730" width="1" height="57" fill="#ff4646"/>
<rect x="961" y="732" width="1" height="55" fill="#ff4646"/>
<rect x="979" y="743" width="1" height="44" fill="#ff4646"/>
<rect x="997" y="767" width="1" height="20" fill="#ff4646"/>
<rect x="1015" y="747" width="1" height="40" fill="#ff4646"/>
<rect x="1033" y="732" width="1" height="55" fill="#ff4646"/>
<rect x="1051" y="710" width="1" height="77" fill="#ff4646"/>
<rect x="1069" y="713" width="1" height="74" fill="#ff4646"/>
<rect x="1087" y="718" width="1" height="69" fill="#ff4646"/>
<rect x="1105" y="706" width="1" height="81" fill="#ff4646"/>
<rect x="1123" y="707" width="1" height="80" fill="#ff4646"/>
<rect x="1141" y="728" width="1" height="59" fill="#ff4646"/>
<rect x="1159" y="753" width="1" height="34" fill="#ff4646"/>
<rect x="1177" y="758" width="1" height="29" fill="#ff4646"/>
<rect x="1195" y="778" width="1" height="9" fill="#ff4646"/>
<rect x="1213" y="788" width="1" height="14" fill="#54ffff"/>
<rect x="1231" y="788" width="1" height="29" fill="#54ffff"/>
<rect x="1248" y="788" width="1" height="48" fill="#54ffff"/>
<rect x="1266" y="788" width="1" height="46" fill="#54ffff"/>
<rect x="1284" y="788" width="1" height="43" fill="#54ffff"/>
<rect x="1302" y="788" width="1" height="49" fill="#54ffff"/>
<rect x="1320" y="788" width="1" height="50" fill="#54ffff"/>
<rect x="1338" y="788" width="1" height="51" fill="#54ffff"/>
<rect x="1356" y="788" width="1" height="64" fill="#54ffff"/>
<rect x="1374" y="788" width="1" height="69" fill="#54ffff"/>
<rect x="1392" y="788" width="1" height="55" fill="#54ffff"/>
<rect x="1410" y="788" width="1" height="50" fill="#54ffff"/>
<rect x="1428" y="788" width="1" height="39" fill="#54ffff"/>
<rect x="1446" y="788" width="1" height="32" fill="#54ffff"/>
<rect x="1464" y="788" width="1" height="31" fill="#54ffff"/>
<rect x="1482" y="788" width="1" height="29" fill="#54ffff"/>
<rect x="1500" y="788" width="1" height="35" fill="#54ffff"/>
<rect x="1518" y="788" width="1" height="30" fill="#54ffff"/>
<rect x="1536" y="788" width="1" height="16" fill="#54ffff"/>
<rect x="1554" y="788" width="1" height="3" fill="#54ffff"/>
<rect x="1572" y="788" width="1" height="5" fill="#54ffff"/>
<rect x="1590" y="788" width="1" height="15" fill="#54ffff"/>
<rect x="1608" y="788" width="1" height="10" fill="#54ffff"/>
<rect x="1626" y="788" width="1" height="6" fill="#54ffff"/>
<polyline points="25.5,840.0 43.5,845.0 61.5,849.0 79.5,854.0 97.5,858.5 115.5,861.5 133.5,864.5 151.5,867.5 169.5,868.3 187.5,868.5 205.5,868.3 223.5,866.0 241.5,864.3 259.5,862.9 277.5,863.2 295.5,865.3 313.5,866.3 331.5,867.2 349.5,867.2 367.5,864.5 385.5,863.0 403.5,859.5 421.5,853.0 439.5,845.0 457.5,837.3 475.5,833.7 493.5,830.4 511.5,828.3 529.5,827.9 547.5,828.5 565.5,827.0 583.5,826.0 601.5,824.5 619.5,823.2 637.5,824.2 655.5,825.3 673.5,825.6 691.5,825.5 709.5,823.0 727.5,819.7 745.5,814.9 763.5,809.2 781.5,803.8 799.5,798.6 817.5,793.7 835.5,788.0 853.5,782.4 871.5,777.5 889.5,771.8 907.5,765.7 925.5,760.0 943.5,751.1 961.5,744.1 979.5,739.7 997.5,736.5 1015.5,731.5 1033.5,724.5 1051.5,714.1 1069.5,703.7 1087.5,695.1 1105.5,686.6 1123.5,678.1 1141.5,669.0 1159.5,664.8 1177.5,660.6 1195.5,659.1 1213.5,660.6 1231.5,663.9 1248.5,669.5 1266.5,675.2 1284.5,680.4 1302.5,688.0 1320.5,693.5 1338.5,699.5 1356.5,707.7 1374.5,718.0 1392.5,724.5 1410.5,730.0 1428.5,734.6 1446.5,739.2 1464.5,743.8 1482.5,746.2 1500.5,751.5 1518.5,753.8 1536.5,756.2 1554.5,757.7 1572.5,758.5 1590.5,760.0 1608.5,761.2 1626.5,762.0" fill="none" stroke="#e6c800" stroke-width="1" stroke-linejoin="round"/>
<polyline points="25.5,862.0 43.5,864.0 61.5,868.0 79.5,871.0 97.5,879.2 115.5,876.5 133.5,877.8 151.5,878.9 169.5,876.5 187.5,868.5 205.5,861.6 223.5,857.2 241.5,857.2 259.5,861.3 277.5,862.2 295.5,871.3 313.5,870.4 331.5,873.1 349.5,870.4 367.5,862.5 385.5,851.0 403.5,842.0 421.5,822.5 439.5,814.0 457.5,812.3 475.5,814.8 493.5,818.2 511.5,820.9 529.5,827.7 547.5,831.3 565.5,825.0 583.5,818.2 601.5,816.4 619.5,822.5 637.5,826.3 655.5,828.3 673.5,827.7 691.5,827.0 709.5,820.2 727.5,804.3 745.5,793.7 763.5,789.2 781.5,779.9 799.5,777.2 817.5,772.3 835.5,768.5 853.5,759.9 871.5,754.7 889.5,750.7 907.5,741.0 925.5,734.6 943.5,723.6 961.5,717.9 979.5,716.6 997.5,726.4 1015.5,708.4 1033.5,695.5 1051.5,675.8 1069.5,667.7 1087.5,661.4 1105.5,644.0 1123.5,635.4 1141.5,638.6 1159.5,646.2 1177.5,644.9 1195.5,653.4 1213.5,668.6 1231.5,678.1 1248.5,694.8 1266.5,698.9 1284.5,702.5 1302.5,712.0 1320.5,717.4 1338.5,723.9 1356.5,740.2 1374.5,751.0 1392.5,751.5 1410.5,754.6 1428.5,754.6 1446.5,755.4 1464.5,758.5 1482.5,761.5 1500.5,767.7 1518.5,769.2 1536.5,765.4 1554.5,760.0 1572.5,761.5 1590.5,766.9 1608.5,766.2 1626.5,763.8" fill="none" stroke="#ffffff" stroke-width="1" stroke-linejoin="round"/>
<rect x="24" y="787" width="1607" height="1" fill="#ff00ff"/>
<rect x="224" y="787" width="53" height="1" fill="#ffff00"/>
<polyline points="223.5,787.5 241.5,864.8 259.5,863.4 277.5,787.5" fill="none" stroke="#ff00ff" stroke-width="1" stroke-linejoin="round"/>
<rect x="440" y="787" width="107" height="1" fill="#ffff00"/>
<polyline points="439.5,787.5 457.5,837.8 475.5,834.2 493.5,830.9 511.5,828.8 529.5,828.4 547.5,787.5" fill="none" stroke="#ff00ff" stroke-width="1" stroke-linejoin="round"/>
<rect x="602" y="787" width="35" height="1" fill="#ffff00"/>
<polyline points="601.5,787.5 619.5,823.4 637.5,787.5" fill="none" stroke="#ff00ff" stroke-width="1" stroke-linejoin="round"/>
<rect x="962" y="787" width="53" height="1" fill="#ffff00"/>
<polyline points="961.5,787.5 979.5,740.2 997.5,737.3 1015.5,787.5" fill="none" stroke="#ff00ff" stroke-width="1" stroke-linejoin="round"/>
<rect x="1124" y="787" width="53" height="1" fill="#ffff00"/>
<polyline points="1123.5,787.5 1141.5,668.7 1159.5,665.3 1177.5,787.5" fill="none" stroke="#ff00ff" stroke-width="1" stroke-linejoin="round"/>
<rect x="18" y="840" width="15" height="22" fill="#ff0000"/>
<rect x="36" y="845" width="15" height="19" fill="#ff0000"/>
<rect x="54" y="849" width="15" height="20" fill="#ff0000"/>
<rect x="72" y="854" width="15" height="18" fill="#ff0000"/>
<rect x="126" y="865" width="15" height="15" fill="#ff0000"/>
<rect x="144" y="868" width="15" height="11" fill="#ff0000"/>
<rect x="162" y="869" width="15" height="6" fill="#ff0000"/>
<rect x="180" y="869" width="15" height="2" fill="#ff0000"/>
<rect x="360" y="862" width="15" height="5" fill="#ff0000"/>
<rect x="684" y="825" width="15" height="2" fill="#ff0000"/>
<rect x="702" y="816" width="15" height="9" fill="#ff0000"/>
<rect x="1277" y="681" width="15" height="23" fill="#ff0000"/>
<rect x="1403" y="730" width="15" height="26" fill="#ff0000"/>
<rect x="1421" y="735" width="15" height="21" fill="#ff0000"/>
<rect x="1439" y="739" width="15" height="17" fill="#ff0000"/>
<rect x="1457" y="743" width="15" height="16" fill="#ff0000"/>
<rect x="1475" y="746" width="15" height="16" fill="#ff0000"/>
<rect x="1529" y="756" width="15" height="10" fill="#ff0000"/>
<rect x="1547" y="757" width="15" height="3" fill="#ff0000"/>
<rect x="1619" y="762" width="15" height="4" fill="#ff0000"/>
<rect x="24" y="787" width="3" height="1" fill="#ff0000"/>
<rect x="25" y="786" width="1" height="3" fill="#ff0000"/>
<rect x="42" y="787" width="3" height="1" fill="#ff0000"/>
<rect x="43" y="786" width="1" height="3" fill="#ff0000"/>
<rect x="60" y="787" width="3" height="1" fill="#ff0000"/>
<rect x="61" y="786" width="1" height="3" fill="#ff0000"/>
<rect x="78" y="787" width="3" height="1" fill="#ff0000"/>
<rect x="79" y="786" width="1" height="3" fill="#ff0000"/>
<rect x="96" y="787" width="3" height="1" fill="#ff0000"/>
<rect x="97" y="786" width="1" height="3" fill="#ff0000"/>
<rect x="114" y="787" width="3" height="1" fill="#ff0000"/>
<rect x="115" y="786" width="1" height="3" fill="#ff0000"/>
<rect x="132" y="787" width="3" height="1" fill="#ff0000"/>
<rect x="133" y="786" width="1" height="3" fill="#ff0000"/>
<rect x="150" y="787" width="3" height="1" fill="#ff0000"/>
<rect x="151" y="786" width="1" height="3" fill="#ff0000"/>
<rect x="168" y="787" width="3" height="1" fill="#ff0000"/>
<rect x="169" y="786" width="1" height="3" fill="#ff0000"/>
<rect x="186" y="787" width="3" height="1" fill="#ff0000"/>
<rect x="187" y="786" width="1" height="3" fill="#ff0000"/>
<rect x="204" y="787" width="3" height="1" fill="#ff0000"/>
<rect x="205" y="786" width="1" height="3" fill="#ff0000"/>
<rect x="222" y="787" width="3" height="1" fill="#ff0000"/>
<rect x="223" y="786" width="1" height="3" fill="#ff0000"/>
<rect x="240" y="787" width="3" height="1" fill="#ff0000"/>
<rect x="241" y="786" width="1" height="3" fill="#ff0000"/>
<rect x="258" y="787" width="3" height="1" fill="#ff0000"/>
<rect x="259" y="786" width="1" height="3" fill="#ff0000"/>
<rect x="276" y="787" width="3" height="1" fill="#ff0000"/>
<rect x="277" y="786" width="1" height="3" fill="#ff0000"/>
<rect x="294" y="787" width="3" height="1" fill="#ff0000"/>
<rect x="295" y="786" width="1" height="3" fill="#ff0000"/>
<rect x="312" y="787" width="3" height="1" fill="#ff0000"/>
<rect x="313" y="786" width="1" height="3" fill="#ff0000"/>
<rect x="330" y="787" width="3" height="1" fill="#ff0000"/>
<rect x="331" y="786" width="1" height="3" fill="#ff0000"/>
<rect x="348" y="787" width="3" height="1" fill="#ff0000"/>
<rect x="349" y="786" width="1" height="3" fill="#ff0000"/>
<rect x="366" y="787" width="3" height="1" fill="#ff0000"/>
<rect x="367" y="786" width="1" height="3" fill="#ff0000"/>
<rect x="384" y="787" width="3" height="1" fill="#ff0000"/>
<rect x="385" y="786" width="1" height="3" fill="#ff0000"/>
<rect x="402" y="787" width="3" height="1" fill="#ff0000"/>
<rect x="403" y="786" width="1" height="3" fill="#ff0000"/>
<rect x="420" y="787" width="3" height="1" fill="#ff0000"/>
<rect x="421" y="786" width="1" height="3" fill="#ff0000"/>
<rect x="438" y="787" width="3" height="1" fill="#ff0000"/>
<rect x="439" y="786" width="1" height="3" fill="#ff0000"/>
<rect x="456" y="787" width="3" height="1" fill="#ff0000"/>
<rect x="457" y="786" width="1" height="3" fill="#ff0000"/>
<rect x="474" y="787" width="3" height="1" fill="#ff0000"/>
<rect x="475" y="786" width="1" height="3" fill="#ff0000"/>
<rect x="492" y="787" width="3" height="1" fill="#ff0000"/>
<rect x="493" y="786" width="1" height="3" fill="#ff0000"/>
<rect x="510" y="787" width="3" height="1" fill="#ff0000"/>
<rect x="511" y="786" width="1" height="3" fill="#ff0000"/>
<rect x="528" y="787" width="3" height="1" fill="#ff0000"/>
<rect x="529" y="786" width="1" height="3" fill="#ff0000"/>
<rect x="546" y="787" width="3" height="1" fill="#ff0000"/>
<rect x="547" y="786" width="1" height="3" fill="#ff0000"/>
<rect x="564" y="787" width="3" height="1" fill="#ff0000"/>
<rect x="565" y="786" width="1" height="3" fill="#ff0000"/>
<rect x="582" y="787" width="3" height="1" fill="#ff0000"/>
<rect x="583" y="786" width="1" height="3" fill="#ff0000"/>
<rect x="600" y="787" width="3" height="1" fill="#ff0000"/>
<rect x="601" y="786" width="1" height="3" fill="#ff0000"/>
<rect x="618" y="787" width="3" height="1" fill="#ff0000"/>
<rect x="619" y="786" width="1" height="3" fill="#ff0000"/>
<rect x="636" y="787" width="3" height="1" fill="#ff0000"/>
<rect x="637" y="786" width="1" height="3" fill="#ff0000"/>
<rect x="654" y="787" width="3" height="1" fill="#ff0000"/>
<rect x="655" y="786" width="1" height="3" fill="#ff0000"/>
<rect x="672" y="787" width="3" height="1" fill="#ff0000"/>
<rect x="673" y="786" width="1" height="3" fill="#ff0000"/>
<rect x="690" y="787" width="3" height="1" fill="#ff0000"/>
<rect x="691" y="786" width="1" height="3" fill="#ff0000"/>
<rect x="708" y="787" width="3" height="1" fill="#ff0000"/>
<rect x="709" y="786" width="1" height="3" fill="#ff0000"/>
<rect x="726" y="787" width="3" height="1" fill="#ff0000"/>
<rect x="727" y="786" width="1" height="3" fill="#ff0000"/>
<rect x="744" y="787" width="3" height="1" fill="#ff0000"/>
<rect x="745" y="786" width="1" height="3" fill="#ff0000"/>
<rect x="762" y="787" width="3" height="1" fill="#ff0000"/>
<rect x="763" y="786" width="1" height="3" fill="#ff0000"/>
<rect x="780" y="787" width="3" height="1" fill="#ff0000"/>
<rect x="781" y="786" width="1" height="3" fill="#ff0000"/>
<rect x="798" y="787" width="3" height="1" fill="#ff0000"/>
<rect x="799" y="786" width="1" height="3" fill="#ff0000"/>
<rect x="816" y="787" width="3" height="1" fill="#ff0000"/>
<rect x="817" y="786" width="1" height="3" fill="#ff0000"/>
<rect x="834" y="787" width="3" height="1" fill="#ff0000"/>
<rect x="835" y="786" width="1" height="3" fill="#ff0000"/>
<rect x="852" y="787" width="3" height="1" fill="#ff0000"/>
<rect x="853" y="786" width="1" height="3" fill="#ff0000"/>
<rect x="870" y="787" width="3" height="1" fill="#ff0000"/>
<rect x="871" y="786" width="1" height="3" fill="#ff0000"/>
<rect x="888" y="787" width="3" height="1" fill="#ff0000"/>
<rect x="889" y="786" width="1" height="3" fill="#ff0000"/>
<rect x="906" y="787" width="3" height="1" fill="#ff0000"/>
<rect x="907" y="786" width="1" height="3" fill="#ff0000"/>
<rect x="924" y="787" width="3" height="1" fill="#ff0000"/>
<rect x="925" y="786" width="1" height="3" fill="#ff0000"/>
<rect x="942" y="787" width="3" height="1" fill="#ff0000"/>
<rect x="943" y="786" width="1" height="3" fill="#ff0000"/>
<rect x="960" y="787" width="3" height="1" fill="#ff0000"/>
<rect x="961" y="786" width="1" height="3" fill="#ff0000"/>
<rect x="978" y="787" width="3" height="1" fill="#ff0000"/>
<rect x="979" y="786" width="1" height="3" fill="#ff0000"/>
<rect x="996" y="787" width="3" height="1" fill="#ff0000"/>
<rect x="997" y="786" width="1" height="3" fill="#ff0000"/>
<rect x="1014" y="787" width="3" height="1" fill="#ff0000"/>
<rect x="1015" y="786" width="1" height="3" fill="#ff0000"/>
<rect x="1032" y="787" width="3" height="1" fill="#ff0000"/>
<rect x="1033" y="786" width="1" height="3" fill="#ff0000"/>
<rect x="1050" y="787" width="3" height="1" fill="#ff0000"/>
<rect x="1051" y="786" width="1" height="3" fill="#ff0000"/>
<rect x="1068" y="787" width="3" height="1" fill="#ff0000"/>
<rect x="1069" y="786" width="1" height="3" fill="#ff0000"/>
<rect x="1086" y="787" width="3" height="1" fill="#ff0000"/>
<rect x="1087" y="786" width="1" height="3" fill="#ff0000"/>
<rect x="1104" y="787" width="3" height="1" fill="#ff0000"/>
<rect x="1105" y="786" width="1" height="3" fill="#ff0000"/>
<rect x="1122" y="787" width="3" height="1" fill="#ff0000"/>
<rect x="1123" y="786" width="1" height="3" fill="#ff0000"/>
<rect x="1140" y="787" width="3" height="1" fill="#ff0000"/>
<rect x="1141" y="786" width="1" height="3" fill="#ff0000"/>
<rect x="1158" y="787" width="3" height="1" fill="#ff0000"/>
<rect x="1159" y="786" width="1" height="3" fill="#ff0000"/>
<rect x="1176" y="787" width="3" height="1" fill="#ff0000"/>
<rect x="1177" y="786" width="1" height="3" fill="#ff0000"/>
<rect x="1194" y="787" width="3" height="1" fill="#ff0000"/>
<rect x="1195" y="786" width="1" height="3" fill="#ff0000"/>
<rect x="1212" y="787" width="3" height="1" fill="#ff0000"/>
<rect x="1213" y="786" width="1" height="3" fill="#ff0000"/>
<rect x="1230" y="787" width="3" height="1" fill="#ff0000"/>
<rect x="1231" y="786" width="1" height="3" fill="#ff0000"/>
<rect x="1247" y="787" width="3" height="1" fill="#ff0000"/>
<rect x="1248" y="786" width="1" height="3" fill="#ff0000"/>
<rect x="1265" y="787" width="3" height="1" fill="#ff0000"/>
<rect x="1266" y="786" width="1" height="3" fill="#ff0000"/>
<rect x="1283" y="787" width="3" height="1" fill="#ff0000"/>
<rect x="1284" y="786" width="1" height="3" fill="#ff0000"/>
<rect x="1301" y="787" width="3" height="1" fill="#ff0000"/>
<rect x="1302" y="786" width="1" height="3" fill="#ff0000"/>
<rect x="1319" y="787" width="3" height="1" fill="#ff0000"/>
<rect x="1320" y="786" width="1" height="3" fill="#ff0000"/>
<rect x="1337" y="787" width="3" height="1" fill="#ff0000"/>
<rect x="1338" y="786" width="1" height="3" fill="#ff0000"/>
<rect x="1355" y="787" width="3" height="1" fill="#ff0000"/>
<rect x="1356" y="786" width="1" height="3" fill="#ff0000"/>
<rect x="1373" y="787" width="3" height="1" fill="#ff0000"/>
<rect x="1374" y="786" width="1" height="3" fill="#ff0000"/>
<rect x="1391" y="787" width="3" height="1" fill="#ff0000"/>
<rect x="1392" y="786" width="1" height="3" fill="#ff0000"/>
<rect x="1409" y="787" width="3" height="1" fill="#ff0000"/>
<rect x="1410" y="786" width="1" height="3" fill="#ff0000"/>
<rect x="1427" y="787" width="3" height="1" fill="#ff0000"/>
<rect x="1428" y="786" width="1" height="3" fill="#ff0000"/>
<rect x="1445" y="787" width="3" height="1" fill="#ff0000"/>
<rect x="1446" y="786" width="1" height="3" fill="#ff0000"/>
<rect x="1463" y="787" width="3" height="1" fill="#ff0000"/>
<rect x="1464" y="786" width="1" height="3" fill="#ff0000"/>
<rect x="1481" y="787" width="3" height="1" fill="#ff0000"/>
<rect x="1482" y="786" width="1" height="3" fill="#ff0000"/>
<rect x="1499" y="787" width="3" height="1" fill="#ff0000"/>
<rect x="1500" y="786" width="1" height="3" fill="#ff0000"/>
<rect x="1517" y="787" width="3" height="1" fill="#ff0000"/>
<rect x="1518" y="786" width="1" height="3" fill="#ff0000"/>
<rect x="1535" y="787" width="3" height="1" fill="#ff0000"/>
<rect x="1536" y="786" width="1" height="3" fill="#ff0000"/>
<rect x="1553" y="787" width="3" height="1" fill="#ff0000"/>
<rect x="1554" y="786" width="1" height="3" fill="#ff0000"/>
<rect x="1571" y="787" width="3" height="1" fill="#ff0000"/>
<rect x="1572" y="786" width="1" height="3" fill="#ff0000"/>
<rect x="1589" y="787" width="3" height="1" fill="#ff0000"/>
<rect x="1590" y="786" width="1" height="3" fill="#ff0000"/>
<rect x="1607" y="787" width="3" height="1" fill="#ff0000"/>
<rect x="1608" y="786" width="1" height="3" fill="#ff0000"/>
<rect x="1625" y="787" width="3" height="1" fill="#ff0000"/>
<rect x="1626" y="786" width="1" height="3" fill="#ff0000"/>
<g shape-rendering="auto"><polyline points="1135,50.8 1124.5,47.3" stroke="#e8e8e8" stroke-width="1.1" fill="none"/><polyline points="1127.5,44.5 1124,47.3 1127,51" stroke="#e8e8e8" stroke-width="1.1" fill="none"/><polyline points="324.5,410.6 314,410.6" stroke="#e8e8e8" stroke-width="1.1" fill="none"/><polyline points="317.5,407 314,410.6 317.5,414.2" stroke="#e8e8e8" stroke-width="1.1" fill="none"/></g>
<rect x="337" y="23" width="1" height="14" fill="#38e8f0"/>
<path d="M335 33 L337.5 37 L340 33 Z" fill="#38e8f0" shape-rendering="auto"/>
<rect x="438" y="23" width="1" height="14" fill="#ff3030"/>
<path d="M436 27 L438.5 23 L441 27 Z" fill="#ff3030" shape-rendering="auto"/>
<rect x="533" y="23" width="1" height="14" fill="#38e8f0"/>
<path d="M531 33 L533.5 37 L536 33 Z" fill="#38e8f0" shape-rendering="auto"/>
<rect x="631" y="23" width="1" height="14" fill="#ff3030"/>
<path d="M629 27 L631.5 23 L634 27 Z" fill="#ff3030" shape-rendering="auto"/>
<rect x="354" y="431" width="1" height="13" fill="#ff3030"/>
<path d="M352 435 L354.5 431 L357 435 Z" fill="#ff3030" shape-rendering="auto"/>
<rect x="480" y="431" width="1" height="13" fill="#38e8f0"/>
<path d="M478 440 L480.5 444 L483 440 Z" fill="#38e8f0" shape-rendering="auto"/>
<rect x="613" y="431" width="1" height="13" fill="#ff3030"/>
<path d="M611 435 L613.5 431 L616 435 Z" fill="#ff3030" shape-rendering="auto"/>
<rect x="207" y="612" width="1" height="14" fill="#ff3030"/>
<path d="M205 616 L207.5 612 L210 616 Z" fill="#ff3030" shape-rendering="auto"/>
<rect x="290" y="612" width="1" height="14" fill="#38e8f0"/>
<path d="M288 622 L290.5 626 L293 622 Z" fill="#38e8f0" shape-rendering="auto"/>
<rect x="398" y="612" width="1" height="14" fill="#ff3030"/>
<path d="M396 616 L398.5 612 L401 616 Z" fill="#ff3030" shape-rendering="auto"/>
<rect x="511" y="612" width="1" height="14" fill="#ff3030"/>
<path d="M509 616 L511.5 612 L514 616 Z" fill="#ff3030" shape-rendering="auto"/>
<rect x="894" y="612" width="1" height="14" fill="#ff3030"/>
<path d="M892 616 L894.5 612 L897 616 Z" fill="#ff3030" shape-rendering="auto"/></g>
<g><rect x="1637" y="21" width="1" height="879" fill="#660000"/>
<rect x="18" y="429" width="1670" height="1" fill="#660000"/>
<rect x="18" y="610" width="1670" height="1" fill="#660000"/>
<rect x="1687" y="610" width="1" height="274" fill="#660000"/>
<rect x="18" y="884" width="1670" height="1" fill="#660000"/>
<rect x="1638" y="71" width="5" height="1" fill="#660000"/>
<rect x="1638" y="105" width="2" height="1" fill="#660000"/>
<rect x="1638" y="139" width="5" height="1" fill="#660000"/>
<rect x="1638" y="173" width="2" height="1" fill="#660000"/>
<rect x="1638" y="207" width="5" height="1" fill="#660000"/>
<rect x="1638" y="241" width="2" height="1" fill="#660000"/>
<rect x="1638" y="275" width="5" height="1" fill="#660000"/>
<rect x="1638" y="309" width="2" height="1" fill="#660000"/>
<rect x="1638" y="343" width="5" height="1" fill="#660000"/>
<rect x="1638" y="377" width="2" height="1" fill="#660000"/>
<rect x="1638" y="411" width="5" height="1" fill="#660000"/>
<rect x="1638" y="454" width="5" height="1" fill="#660000"/>
<rect x="1638" y="473" width="2" height="1" fill="#660000"/>
<rect x="1638" y="492" width="5" height="1" fill="#660000"/>
<rect x="1638" y="511" width="2" height="1" fill="#660000"/>
<rect x="1638" y="530" width="5" height="1" fill="#660000"/>
<rect x="1638" y="550" width="2" height="1" fill="#660000"/>
<rect x="1638" y="569" width="5" height="1" fill="#660000"/>
<rect x="1638" y="588" width="2" height="1" fill="#660000"/>
<rect x="1638" y="628" width="5" height="1" fill="#660000"/>
<rect x="1638" y="648" width="2" height="1" fill="#660000"/>
<rect x="1638" y="668" width="5" height="1" fill="#660000"/>
<rect x="1638" y="688" width="2" height="1" fill="#660000"/>
<rect x="1638" y="708" width="5" height="1" fill="#660000"/>
<rect x="1638" y="728" width="2" height="1" fill="#660000"/>
<rect x="1638" y="748" width="5" height="1" fill="#660000"/>
<rect x="1638" y="768" width="2" height="1" fill="#660000"/>
<rect x="1638" y="788" width="5" height="1" fill="#660000"/>
<rect x="1638" y="808" width="2" height="1" fill="#660000"/>
<rect x="1638" y="828" width="5" height="1" fill="#660000"/>
<rect x="1638" y="848" width="2" height="1" fill="#660000"/>
<rect x="1637.5" y="590.5" width="33" height="19" fill="none" stroke="#660000" stroke-width="1"/>
<rect x="204" y="884" width="1" height="16" fill="#660000"/>
<rect x="565" y="884" width="1" height="16" fill="#660000"/>
<rect x="835" y="884" width="1" height="16" fill="#660000"/>
<rect x="1248" y="884" width="1" height="16" fill="#660000"/>
<rect x="1625" y="884" width="1" height="16" fill="#660000"/></g>
<g shape-rendering="auto"><text x="1683" y="74.1" font-size="16" fill="#dcdcdc" stroke="#dcdcdc" stroke-width="0.2" text-anchor="end" >9.00</text>
<text x="1683" y="109.1" font-size="16" fill="#dcdcdc" stroke="#dcdcdc" stroke-width="0.2" text-anchor="end" >8.75</text>
<text x="1683" y="142.1" font-size="16" fill="#dcdcdc" stroke="#dcdcdc" stroke-width="0.2" text-anchor="end" >8.50</text>
<text x="1683" y="177.1" font-size="16" fill="#dcdcdc" stroke="#dcdcdc" stroke-width="0.2" text-anchor="end" >8.25</text>
<text x="1683" y="210.1" font-size="16" fill="#dcdcdc" stroke="#dcdcdc" stroke-width="0.2" text-anchor="end" >8.00</text>
<text x="1683" y="245.1" font-size="16" fill="#dcdcdc" stroke="#dcdcdc" stroke-width="0.2" text-anchor="end" >7.75</text>
<text x="1683" y="278.1" font-size="16" fill="#dcdcdc" stroke="#dcdcdc" stroke-width="0.2" text-anchor="end" >7.50</text>
<text x="1683" y="313.1" font-size="16" fill="#dcdcdc" stroke="#dcdcdc" stroke-width="0.2" text-anchor="end" >7.25</text>
<text x="1683" y="346.1" font-size="16" fill="#dcdcdc" stroke="#dcdcdc" stroke-width="0.2" text-anchor="end" >7.00</text>
<text x="1683" y="381.1" font-size="16" fill="#dcdcdc" stroke="#dcdcdc" stroke-width="0.2" text-anchor="end" >6.75</text>
<text x="1683" y="414.1" font-size="16" fill="#dcdcdc" stroke="#dcdcdc" stroke-width="0.2" text-anchor="end" >6.50</text>
<text x="1683" y="456.1" font-size="16" fill="#dcdcdc" stroke="#dcdcdc" stroke-width="0.2" text-anchor="end" >20000</text>
<text x="1683" y="494.1" font-size="16" fill="#dcdcdc" stroke="#dcdcdc" stroke-width="0.2" text-anchor="end" >15000</text>
<text x="1683" y="532.1999999999999" font-size="16" fill="#dcdcdc" stroke="#dcdcdc" stroke-width="0.2" text-anchor="end" >10000</text>
<text x="1683" y="571.0999999999999" font-size="16" fill="#dcdcdc" stroke="#dcdcdc" stroke-width="0.2" text-anchor="end" >5000</text>
<text x="1640" y="602.6" font-size="14" fill="#dcdcdc" stroke="#dcdcdc" stroke-width="0.2" textLength="27.5" lengthAdjust="spacingAndGlyphs" >X10</text>
<text x="1683" y="629.9" font-size="16" fill="#dcdcdc" stroke="#dcdcdc" stroke-width="0.2" text-anchor="end" >0.40</text>
<text x="1683" y="669.9" font-size="16" fill="#dcdcdc" stroke="#dcdcdc" stroke-width="0.2" text-anchor="end" >0.30</text>
<text x="1683" y="709.9" font-size="16" fill="#dcdcdc" stroke="#dcdcdc" stroke-width="0.2" text-anchor="end" >0.20</text>
<text x="1683" y="749.9" font-size="16" fill="#dcdcdc" stroke="#dcdcdc" stroke-width="0.2" text-anchor="end" >0.10</text>
<text x="1683" y="789.9" font-size="16" fill="#dcdcdc" stroke="#dcdcdc" stroke-width="0.2" text-anchor="end" >0.00</text>
<text x="1683" y="829.9" font-size="16" fill="#dcdcdc" stroke="#dcdcdc" stroke-width="0.2" text-anchor="end" >-0.10</text>
<text x="1137.5" y="57" font-size="16" fill="#e8e8e8" stroke="#e8e8e8" stroke-width="0.2" textLength="30.5" lengthAdjust="spacingAndGlyphs" >9.18</text>
<text x="327" y="412.2" font-size="16" fill="#e8e8e8" stroke="#e8e8e8" stroke-width="0.2" textLength="27.5" lengthAdjust="spacingAndGlyphs" >6.51</text>
<text x="295.5" y="791.6" font-size="15" fill="#00f000" stroke="#00f000" stroke-width="0.2" textLength="30.0" lengthAdjust="spacingAndGlyphs" >死叉</text>
<text x="547.5" y="791.6" font-size="15" fill="#00f000" stroke="#00f000" stroke-width="0.2" textLength="30.0" lengthAdjust="spacingAndGlyphs" >死叉</text>
<text x="637.5" y="791.6" font-size="15" fill="#00f000" stroke="#00f000" stroke-width="0.2" textLength="30.0" lengthAdjust="spacingAndGlyphs" >死叉</text>
<text x="1213.5" y="791.6" font-size="15" fill="#00f000" stroke="#00f000" stroke-width="0.2" textLength="30.0" lengthAdjust="spacingAndGlyphs" >死叉</text>
<text x="186.5" y="791.6" font-size="15" fill="#00e4e4" stroke="#00e4e4" stroke-width="0.2" textLength="42.0" lengthAdjust="spacingAndGlyphs" >金N叉</text>
<text x="366.5" y="791.6" font-size="15" fill="#00e4e4" stroke="#00e4e4" stroke-width="0.2" textLength="42.0" lengthAdjust="spacingAndGlyphs" >金N叉</text>
<text x="564.5" y="791.6" font-size="15" fill="#00e4e4" stroke="#00e4e4" stroke-width="0.2" textLength="42.0" lengthAdjust="spacingAndGlyphs" >金N叉</text>
<text x="708.5" y="791.6" font-size="15" fill="#00e4e4" stroke="#00e4e4" stroke-width="0.2" textLength="42.0" lengthAdjust="spacingAndGlyphs" >金N叉</text>
<text x="46" y="14.9" font-size="12" fill="#e8e8e8" textLength="22.8" lengthAdjust="spacingAndGlyphs" >分时</text>
<text x="79.5" y="14.9" font-size="12" fill="#e8e8e8" textLength="29.8" lengthAdjust="spacingAndGlyphs" >1分钟</text>
<text x="118.5" y="14.9" font-size="12" fill="#e8e8e8" textLength="29.8" lengthAdjust="spacingAndGlyphs" >3分钟</text>
<text x="157.4" y="14.9" font-size="12" fill="#e8e8e8" textLength="29.8" lengthAdjust="spacingAndGlyphs" >5分钟</text>
<text x="196.3" y="14.9" font-size="12" fill="#e8e8e8" textLength="37.3" lengthAdjust="spacingAndGlyphs" >15分钟</text>
<text x="242.9" y="14.9" font-size="12" fill="#e8e8e8" textLength="36.5" lengthAdjust="spacingAndGlyphs" >30分钟</text>
<text x="288.3" y="14.9" font-size="12" fill="#e8e8e8" textLength="37.0" lengthAdjust="spacingAndGlyphs" >60分钟</text>
<text x="339.3" y="14.9" font-size="12" fill="#e8e8e8" textLength="15.0" lengthAdjust="spacingAndGlyphs" >2H</text>
<text x="369.2" y="14.9" font-size="12" fill="#38e4ec" textLength="23.2" lengthAdjust="spacingAndGlyphs" >日线</text>
<text x="401.5" y="14.9" font-size="12" fill="#e8e8e8" textLength="35.6" lengthAdjust="spacingAndGlyphs" >多周期</text>
<text x="445.4" y="14.9" font-size="12" fill="#e8e8e8" textLength="23.2" lengthAdjust="spacingAndGlyphs" >更多</text>
<text x="1378" y="14.9" font-size="12" fill="#e8e8e8" textLength="23.0" lengthAdjust="spacingAndGlyphs" >复权</text>
<text x="1411.7" y="14.9" font-size="12" fill="#e8e8e8" textLength="23.5" lengthAdjust="spacingAndGlyphs" >叠加</text>
<text x="1446.9" y="14.9" font-size="12" fill="#e8e8e8" textLength="23.4" lengthAdjust="spacingAndGlyphs" >历史</text>
<text x="1481.5" y="14.9" font-size="12" fill="#e8e8e8" textLength="24.0" lengthAdjust="spacingAndGlyphs" >统计</text>
<text x="1516.3" y="14.9" font-size="12" fill="#e8e8e8" textLength="24.4" lengthAdjust="spacingAndGlyphs" >画线</text>
<text x="1554.3" y="14.9" font-size="12" fill="#e8e8e8" textLength="20.5" lengthAdjust="spacingAndGlyphs" >F10</text>
<text x="1586.6" y="14.9" font-size="12" fill="#e8e8e8" textLength="23.4" lengthAdjust="spacingAndGlyphs" >标记</text>
<text x="1619.8" y="14.9" font-size="12" fill="#e8e8e8" textLength="29.2" lengthAdjust="spacingAndGlyphs" >+自选</text>
<text x="1657.8" y="14.9" font-size="12" fill="#e8e8e8" textLength="23.5" lengthAdjust="spacingAndGlyphs" >返回</text>
<text x="20.9" y="35.4" font-size="15" fill="#f0f0f0" stroke="#f0f0f0" stroke-width="0.2" textLength="150.7" lengthAdjust="spacingAndGlyphs" >深纺织A (日线.前复权)</text>
<text x="194.1" y="35.4" font-size="15" fill="#f0f0f0" stroke="#f0f0f0" stroke-width="0.2" textLength="58.8" lengthAdjust="spacingAndGlyphs" >默认主图</text>
<text x="259.5" y="35.4" font-size="15" fill="#f0f0f0" stroke="#f0f0f0" stroke-width="0.2" textLength="72.6" lengthAdjust="spacingAndGlyphs" >MA5: 8.25</text>
<text x="349" y="35.4" font-size="15" fill="#ff2020" stroke="#ff2020" stroke-width="0.2" textLength="82.0" lengthAdjust="spacingAndGlyphs" >MA10: 8.20</text>
<text x="446.6" y="35.4" font-size="15" fill="#f2f200" stroke="#f2f200" stroke-width="0.2" textLength="81.1" lengthAdjust="spacingAndGlyphs" >MA20: 8.17</text>
<text x="544.3" y="35.4" font-size="15" fill="#1010ff" stroke="#1010ff" stroke-width="0.2" textLength="81.2" lengthAdjust="spacingAndGlyphs" >MA60: 7.82</text>
<text x="36.6" y="442.7" font-size="14" fill="#f0f0f0" stroke="#f0f0f0" stroke-width="0.2" textLength="165.1" lengthAdjust="spacingAndGlyphs" >VOL-TDX(5,10) VVOL: -</text>
<text x="212.7" y="442.7" font-size="14" fill="#d4cc00" stroke="#d4cc00" stroke-width="0.2" textLength="137.9" lengthAdjust="spacingAndGlyphs" >VOLUME: 50128.50</text>
<text x="366.7" y="442.7" font-size="14" fill="#d4cc00" stroke="#d4cc00" stroke-width="0.2" textLength="108.6" lengthAdjust="spacingAndGlyphs" >MA5: 52040.95</text>
<text x="491.3" y="442.7" font-size="14" fill="#e020e0" stroke="#e020e0" stroke-width="0.2" textLength="117.1" lengthAdjust="spacingAndGlyphs" >MA10: 50192.91</text>
<text x="36.9" y="623.5" font-size="14" fill="#f0f0f0" stroke="#f0f0f0" stroke-width="0.2" textLength="165.7" lengthAdjust="spacingAndGlyphs" >MACD顶背离 DIFF: 0.06</text>
<text x="218.9" y="623.5" font-size="14" fill="#d8d800" stroke="#d8d800" stroke-width="0.2" textLength="67.2" lengthAdjust="spacingAndGlyphs" >DEA: 0.06</text>
<text x="302.4" y="623.5" font-size="14" fill="#f04848" stroke="#f04848" stroke-width="0.2" textLength="91.2" lengthAdjust="spacingAndGlyphs" >MACD: -0.02</text>
<text x="410.6" y="623.5" font-size="14" fill="#e8e800" stroke="#e8e800" stroke-width="0.2" textLength="96.5" lengthAdjust="spacingAndGlyphs" >上升背离: 0.06</text>
<text x="523.7" y="623.5" font-size="14" fill="#00dc00" stroke="#00dc00" stroke-width="0.2" textLength="82.4" lengthAdjust="spacingAndGlyphs" >顶背离: 0.00</text>
<text x="612.7" y="623.5" font-size="14" fill="#e810e8" stroke="#e810e8" stroke-width="0.2" textLength="97.5" lengthAdjust="spacingAndGlyphs" >下降背离: 0.00</text>
<text x="716.2" y="623.5" font-size="14" fill="#f01c1c" stroke="#f01c1c" stroke-width="0.2" textLength="83.6" lengthAdjust="spacingAndGlyphs" >底背离: 0.00</text>
<text x="805.9" y="623.5" font-size="14" fill="#f01c1c" stroke="#f01c1c" stroke-width="0.2" textLength="85.6" lengthAdjust="spacingAndGlyphs" >介入区: 0.06</text>
<text x="25.4" y="898.5" font-size="16" fill="#d4d4d4" stroke="#d4d4d4" stroke-width="0.2" textLength="50.8" lengthAdjust="spacingAndGlyphs" >2020年</text>
<text x="206.5" y="898.5" font-size="16" fill="#d4d4d4" stroke="#d4d4d4" stroke-width="0.2" >1</text>
<text x="565.8" y="898.5" font-size="16" fill="#d4d4d4" stroke="#d4d4d4" stroke-width="0.2" >2</text>
<text x="835.8" y="898.5" font-size="16" fill="#d4d4d4" stroke="#d4d4d4" stroke-width="0.2" >3</text>
<text x="1249" y="898.5" font-size="16" fill="#d4d4d4" stroke="#d4d4d4" stroke-width="0.2" >4</text>
<text x="1627" y="898.5" font-size="16" fill="#d4d4d4" stroke="#d4d4d4" stroke-width="0.2" >5</text>
<text x="1648.5" y="899.3" font-size="15" fill="#e4eeff" stroke="#e4eeff" stroke-width="0.2" textLength="29.0" lengthAdjust="spacingAndGlyphs" >日线</text>
<text x="21.5" y="914.3" font-size="12" fill="#e8e8e8" textLength="23.9" lengthAdjust="spacingAndGlyphs" >指标</text>
<text x="52.3" y="914.3" font-size="12" fill="#e8e8e8" textLength="23.1" lengthAdjust="spacingAndGlyphs" >模板</text>
<text x="81.5" y="914.3" font-size="12" fill="#38e4ec" textLength="23.9" lengthAdjust="spacingAndGlyphs" >管理</text>
<text x="114.6" y="914.3" font-size="12" fill="#e8e8e8" textLength="34.6" lengthAdjust="spacingAndGlyphs" >另存为</text>
<text x="157.7" y="914.3" font-size="12" fill="#e8e8e8" textLength="35.4" lengthAdjust="spacingAndGlyphs" >绑定到</text>
<text x="201.5" y="914.3" font-size="12" fill="#e8e8e8" textLength="35.4" lengthAdjust="spacingAndGlyphs" >标准版</text>
<text x="1650.5" y="913.5" font-size="14" fill="#e8e8e8" stroke="#e8e8e8" stroke-width="0.2" text-anchor="middle" >+</text>
<text x="1675" y="913.5" font-size="14" fill="#e8e8e8" stroke="#e8e8e8" stroke-width="0.2" text-anchor="middle" >−</text>
<text x="6" y="932" font-size="12" fill="#e0e0e0" textLength="28.0" lengthAdjust="spacingAndGlyphs" >公司概况</text>
<text x="45" y="932" font-size="12" fill="#e0e0e0" textLength="47.0" lengthAdjust="spacingAndGlyphs" >关联报价</text>
<text x="101" y="932" font-size="12" fill="#e0e000" textLength="47.0" lengthAdjust="spacingAndGlyphs" >意见分析</text>
<text x="157" y="932" font-size="12" fill="#e0e000" textLength="47.0" lengthAdjust="spacingAndGlyphs" >换手资金</text>
<text x="213" y="932" font-size="12" fill="#e0e000" textLength="49.0" lengthAdjust="spacingAndGlyphs" >资金流向</text>
<text x="272" y="932" font-size="12" fill="#e0e000" textLength="46.0" lengthAdjust="spacingAndGlyphs" >操作建议</text>
<text x="326" y="932" font-size="12" fill="#e0e000" textLength="46.0" lengthAdjust="spacingAndGlyphs" >行业研报</text>
<text x="381" y="932" font-size="12" fill="#e0e000" textLength="47.0" lengthAdjust="spacingAndGlyphs" >历史记录</text>
<text x="1592" y="932" font-size="12" fill="#e0e000" textLength="42.0" lengthAdjust="spacingAndGlyphs" >周期设置</text>
<text x="1641" y="932" font-size="12" fill="#e0e000" textLength="45.0" lengthAdjust="spacingAndGlyphs" >指标说明</text>
<text x="8.5" y="14.5" font-size="12" fill="#ececec" text-anchor="middle" >分</text>
<text x="8.5" y="27.1" font-size="12" fill="#ececec" text-anchor="middle" >时</text>
<text x="8.5" y="39.7" font-size="12" fill="#ececec" text-anchor="middle" >走</text>
<text x="8.5" y="52.3" font-size="12" fill="#ececec" text-anchor="middle" >势</text>
<text x="8.5" y="74.5" font-size="12" fill="#ececec" text-anchor="middle" >技</text>
<text x="8.5" y="87.1" font-size="12" fill="#ececec" text-anchor="middle" >术</text>
<text x="8.5" y="99.7" font-size="12" fill="#ececec" text-anchor="middle" >分</text>
<text x="8.5" y="112.3" font-size="12" fill="#ececec" text-anchor="middle" >析</text>
<text x="8.5" y="134.5" font-size="12" fill="#ececec" text-anchor="middle" >大</text>
<text x="8.5" y="147.1" font-size="12" fill="#ececec" text-anchor="middle" >盘</text>
<text x="8.5" y="159.7" font-size="12" fill="#ececec" text-anchor="middle" >资</text>
<text x="8.5" y="172.3" font-size="12" fill="#ececec" text-anchor="middle" >金</text>
<text x="8.5" y="194.5" font-size="12" fill="#ececec" text-anchor="middle" >大</text>
<text x="8.5" y="207.1" font-size="12" fill="#ececec" text-anchor="middle" >单</text>
<text x="8.5" y="219.7" font-size="12" fill="#ececec" text-anchor="middle" >买</text>
<text x="8.5" y="232.3" font-size="12" fill="#ececec" text-anchor="middle" >卖</text>
<text x="8.5" y="254.5" font-size="12" fill="#ececec" text-anchor="middle" >一</text>
<text x="8.5" y="267.1" font-size="12" fill="#ececec" text-anchor="middle" >日</text>
<text x="8.5" y="279.7" font-size="12" fill="#ececec" text-anchor="middle" >资</text>
<text x="8.5" y="292.3" font-size="12" fill="#ececec" text-anchor="middle" >金</text>
<text x="8.5" y="314.5" font-size="12" fill="#ececec" text-anchor="middle" >主</text>
<text x="8.5" y="327.1" font-size="12" fill="#ececec" text-anchor="middle" >力</text>
<text x="8.5" y="339.7" font-size="12" fill="#ececec" text-anchor="middle" >大</text>
<text x="8.5" y="352.3" font-size="12" fill="#ececec" text-anchor="middle" >单</text>
<text x="8.5" y="374.5" font-size="12" fill="#ececec" text-anchor="middle" >大</text>
<text x="8.5" y="387.1" font-size="12" fill="#ececec" text-anchor="middle" >单</text>
<text x="8.5" y="399.7" font-size="12" fill="#ececec" text-anchor="middle" >盘</text>
<text x="8.5" y="412.3" font-size="12" fill="#ececec" text-anchor="middle" >口</text>
<text x="8.5" y="434.5" font-size="12" fill="#ececec" text-anchor="middle" >财</text>
<text x="8.5" y="447.1" font-size="12" fill="#ececec" text-anchor="middle" >富</text>
<text x="8.5" y="459.7" font-size="12" fill="#ececec" text-anchor="middle" >资</text>
<text x="8.5" y="472.3" font-size="12" fill="#ececec" text-anchor="middle" >金</text>
<text x="8.5" y="494.5" font-size="12" fill="#ececec" text-anchor="middle" >东</text>
<text x="8.5" y="507.1" font-size="12" fill="#ececec" text-anchor="middle" >财</text>
<text x="8.5" y="519.7" font-size="12" fill="#ececec" text-anchor="middle" >贴</text>
<text x="8.5" y="532.3" font-size="12" fill="#ececec" text-anchor="middle" >吧</text>
<text x="1473" y="891.5" font-size="36" fill="#ffffff" textLength="109.0" lengthAdjust="spacingAndGlyphs" font-weight="bold" >财富池</text>
<text x="1589.5" y="874.3" font-size="16" fill="#ffffff" textLength="67.0" lengthAdjust="spacingAndGlyphs" font-weight="bold" >cfchi.com</text>
<text x="1590.5" y="892.3" font-size="11" fill="#ffffff" textLength="67.0" lengthAdjust="spacingAndGlyphs" font-weight="bold" >指标交易平台</text>
<text x="1014.5" y="426" font-size="11.5" fill="#ffffff" text-anchor="middle" font-weight="bold" >涨</text>
<text x="1571.5" y="426" font-size="11.5" fill="#ffffff" text-anchor="middle" font-weight="bold" >财</text></g>
</svg>
</body></html>
